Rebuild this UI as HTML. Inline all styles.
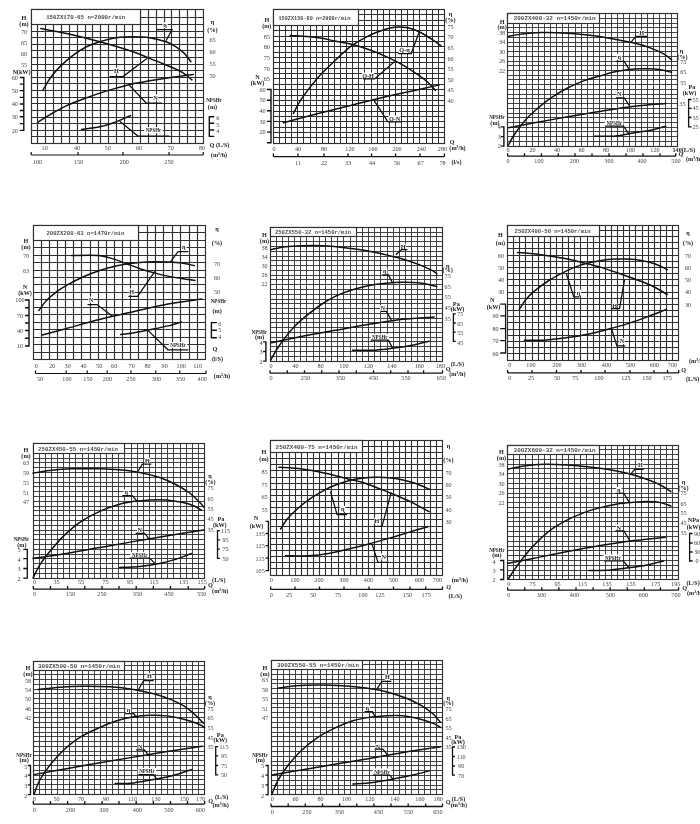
<!DOCTYPE html>
<html><head><meta charset="utf-8"><title>Pump performance curves</title>
<style>
html,body{margin:0;padding:0;background:#fff;}
body{width:700px;height:824px;overflow:hidden;font-family:"Liberation Mono",monospace;}
svg{display:block;will-change:transform;}
svg text{font-family:"Liberation Serif",serif;font-weight:bold;fill:#222;}
svg text.n{font-weight:normal;fill:#454545;}
svg text.tt{font-family:"Liberation Mono",monospace;font-weight:bold;fill:#4a4a4a;}
</style></head><body>
<svg width="700" height="824" viewBox="0 0 700 824">
<rect x="0" y="0" width="700" height="824" fill="#fff"/>
<g>
<path d="M31.20 24.50H203.20M31.20 31.50H203.20M31.20 37.50H203.20M31.20 44.50H203.20M31.20 50.50H203.20M31.20 57.50H203.20M31.20 64.50H203.20M31.20 70.50H203.20M31.20 77.50H203.20M31.20 83.50H203.20M31.20 90.50H203.20M31.20 97.50H203.20M31.20 103.50H203.20M31.20 110.50H203.20M31.20 117.50H203.20M31.20 123.50H203.20M31.20 130.50H203.20M31.20 136.50H203.20M140.00 17.50H203.20M37.50 24.40V143.40M45.50 24.40V143.40M53.50 24.40V143.40M61.50 24.40V143.40M69.50 24.40V143.40M77.50 24.40V143.40M85.50 24.40V143.40M92.50 24.40V143.40M100.50 24.40V143.40M108.50 24.40V143.40M116.50 24.40V143.40M124.50 24.40V143.40M132.50 24.40V143.40M140.50 9.70V143.40M148.50 9.70V143.40M156.50 9.70V143.40M164.50 9.70V143.40M171.50 9.70V143.40M179.50 9.70V143.40M187.50 9.70V143.40M195.50 9.70V143.40" stroke="#303030" stroke-width="1.15" fill="none"/>
<rect x="31.50" y="9.50" width="172.00" height="134.00" fill="none" stroke="#303030" stroke-width="1.15"/>
<rect x="31.50" y="9.50" width="109.00" height="15.00" fill="#fff" stroke="#303030" stroke-width="1.15"/>
<text x="46.20" y="19.25" font-size="5.60" text-anchor="start" class="tt" textLength="79.0" lengthAdjust="spacingAndGlyphs">150ZX170-65 n=2900r/min</text>
<rect x="162.44" y="22.25" width="5.30" height="6.00" fill="#fff"/>
<rect x="113.72" y="67.59" width="5.30" height="6.00" fill="#fff"/>
<rect x="152.83" y="94.40" width="5.30" height="6.00" fill="#fff"/>
<rect x="144.24" y="127.16" width="18.50" height="6.00" fill="#fff"/>
<path d="M40.81 28.56 C45.12 29.39 56.83 31.32 66.66 33.53 C76.49 35.74 88.75 38.77 99.80 41.80 C110.85 44.83 124.66 48.97 132.94 51.73 C141.22 54.49 143.99 56.14 149.51 58.35 C155.03 60.56 160.56 62.60 166.08 64.97 C171.60 67.34 178.34 70.10 182.65 72.58 C186.96 75.06 190.38 78.65 191.93 79.86" stroke="#111" stroke-width="1.50" fill="none" stroke-linecap="round"/>
<path d="M42.80 90.45 C44.02 88.41 47.22 82.17 50.09 78.20 C52.96 74.23 56.16 70.48 60.03 66.62 C63.90 62.76 68.87 58.35 73.29 55.04 C77.71 51.73 82.12 48.98 86.54 46.77 C90.96 44.56 94.83 43.29 99.80 41.80 C104.77 40.31 110.85 38.66 116.37 37.83 C121.89 37.00 127.42 36.84 132.94 36.84 C138.46 36.84 143.99 37.00 149.51 37.83 C155.03 38.66 161.66 40.31 166.08 41.80 C170.50 43.29 172.98 44.84 176.02 46.77 C179.06 48.70 181.82 50.90 184.31 53.38 C186.80 55.86 189.84 60.28 190.94 61.66" stroke="#111" stroke-width="1.50" fill="none" stroke-linecap="round"/>
<path d="M37.83 122.22 C39.87 120.95 45.29 117.37 50.09 114.61 C54.90 111.85 61.14 108.26 66.66 105.67 C72.18 103.08 77.71 101.14 83.23 99.05 C88.75 96.95 94.28 94.92 99.80 93.10 C105.32 91.28 110.85 89.67 116.37 88.13 C121.89 86.58 127.42 85.04 132.94 83.83 C138.46 82.62 143.99 81.79 149.51 80.85 C155.03 79.91 160.56 79.03 166.08 78.20 C171.60 77.37 178.12 76.50 182.65 75.89 C187.18 75.28 191.49 74.78 193.26 74.56" stroke="#111" stroke-width="1.50" fill="none" stroke-linecap="round"/>
<path d="M81.57 129.50 C84.61 129.06 94.55 127.95 99.80 126.85 C105.05 125.75 109.19 124.20 113.06 122.88 C116.93 121.56 120.07 120.12 123.00 118.91 C125.93 117.70 129.35 116.15 130.62 115.60" stroke="#111" stroke-width="1.50" fill="none" stroke-linecap="round"/>
<polyline points="156.14,29.56 172.05,29.56 166.08,40.81" stroke="#111" stroke-width="1.25" fill="none"/>
<polyline points="109.74,76.55 123.00,76.55 147.19,58.35" stroke="#111" stroke-width="1.25" fill="none"/>
<polyline points="161.77,103.03 146.20,103.03 128.96,84.82" stroke="#111" stroke-width="1.25" fill="none"/>
<polyline points="169.40,136.12 137.91,136.12 119.69,121.23" stroke="#111" stroke-width="1.30" fill="none"/>
<text x="165.09" y="27.36" font-size="6.20" text-anchor="middle">η</text>
<text x="116.37" y="72.70" font-size="6.20" text-anchor="middle">H</text>
<text x="155.48" y="99.51" font-size="6.20" text-anchor="middle">N</text>
<text x="153.49" y="132.27" font-size="6.20" text-anchor="middle" textLength="15.50" lengthAdjust="spacingAndGlyphs">NPSHr</text>
<text x="24.00" y="19.91" font-size="6.20" text-anchor="middle">H</text>
<text x="24.00" y="25.91" font-size="6.20" text-anchor="middle">(m)</text>
<text x="24.00" y="33.91" font-size="6.20" text-anchor="middle" class="n">70</text>
<text x="24.00" y="45.11" font-size="6.20" text-anchor="middle" class="n">65</text>
<text x="24.00" y="56.11" font-size="6.20" text-anchor="middle" class="n">60</text>
<text x="24.00" y="66.61" font-size="6.20" text-anchor="middle" class="n">55</text>
<text x="21.50" y="73.61" font-size="6.20" text-anchor="middle">N(kW)</text>
<text x="14.80" y="79.61" font-size="6.20" text-anchor="middle" class="n">60</text>
<text x="14.80" y="92.71" font-size="6.20" text-anchor="middle" class="n">50</text>
<text x="14.80" y="106.11" font-size="6.20" text-anchor="middle" class="n">40</text>
<text x="14.80" y="118.91" font-size="6.20" text-anchor="middle" class="n">30</text>
<text x="14.80" y="132.51" font-size="6.20" text-anchor="middle" class="n">20</text>
<text x="212.50" y="24.11" font-size="6.20" text-anchor="middle">η</text>
<text x="212.50" y="32.11" font-size="6.20" text-anchor="middle">(%)</text>
<text x="212.50" y="41.61" font-size="6.20" text-anchor="middle" class="n">65</text>
<text x="212.50" y="54.11" font-size="6.20" text-anchor="middle" class="n">60</text>
<text x="212.50" y="66.11" font-size="6.20" text-anchor="middle" class="n">55</text>
<text x="212.50" y="77.61" font-size="6.20" text-anchor="middle" class="n">50</text>
<text x="214.00" y="101.61" font-size="6.20" text-anchor="middle" textLength="15.50" lengthAdjust="spacingAndGlyphs">NPSHr</text>
<text x="212.50" y="109.11" font-size="6.20" text-anchor="middle">(m)</text>
<text x="217.90" y="120.01" font-size="6.20" text-anchor="middle" class="n">6</text>
<text x="217.90" y="126.71" font-size="6.20" text-anchor="middle" class="n">5</text>
<text x="217.90" y="132.81" font-size="6.20" text-anchor="middle" class="n">4</text>
<text x="219.50" y="147.31" font-size="6.20" text-anchor="middle">Q (L/S)</text>
<text x="219.00" y="156.91" font-size="6.20" text-anchor="middle">(m³/h)</text>
<text x="44.70" y="150.31" font-size="6.20" text-anchor="middle" class="n">10</text>
<text x="77.00" y="150.31" font-size="6.20" text-anchor="middle" class="n">40</text>
<text x="107.70" y="150.31" font-size="6.20" text-anchor="middle" class="n">50</text>
<text x="139.00" y="150.31" font-size="6.20" text-anchor="middle" class="n">60</text>
<text x="170.70" y="150.31" font-size="6.20" text-anchor="middle" class="n">70</text>
<text x="202.00" y="150.31" font-size="6.20" text-anchor="middle" class="n">80</text>
<text x="37.50" y="163.61" font-size="6.20" text-anchor="middle" class="n">100</text>
<text x="78.50" y="163.61" font-size="6.20" text-anchor="middle" class="n">150</text>
<text x="124.30" y="163.61" font-size="6.20" text-anchor="middle" class="n">200</text>
<text x="169.00" y="163.61" font-size="6.20" text-anchor="middle" class="n">250</text>
<path d="M23.80 76.80V131.10M23.80 77.50h-4.00M23.80 84.10h-4.00M23.80 90.60h-4.00M23.80 97.40h-4.00M23.80 104.00h-4.00M23.80 110.50h-4.00M23.80 116.80h-4.00M23.80 123.60h-4.00M23.80 130.40h-4.00" stroke="#111" stroke-width="1.40" fill="none"/>
<path d="M209.30 116.10V137.10M209.30 116.80h5.00M209.30 123.20h5.00M209.30 130.00h5.00M209.30 136.40h5.00" stroke="#111" stroke-width="1.40" fill="none"/>
<path d="M31.20 155.00H203.20M31.20 155.00v-3.00M78.00 155.00v-3.00M123.00 155.00v-3.00M169.00 155.00v-3.00M203.20 155.00v-3.00" stroke="#111" stroke-width="1.20" fill="none"/>
</g>
<g>
<path d="M273.40 25.50H444.40M273.40 30.50H444.40M273.40 36.50H444.40M273.40 41.50H444.40M273.40 46.50H444.40M273.40 52.50H444.40M273.40 57.50H444.40M273.40 62.50H444.40M273.40 68.50H444.40M273.40 73.50H444.40M273.40 78.50H444.40M273.40 84.50H444.40M273.40 89.50H444.40M273.40 95.50H444.40M273.40 100.50H444.40M273.40 105.50H444.40M273.40 111.50H444.40M273.40 116.50H444.40M273.40 121.50H444.40M273.40 127.50H444.40M273.40 132.50H444.40M273.40 137.50H444.40M358.90 20.50H444.40M358.90 14.50H444.40M279.50 25.40V143.20M285.50 25.40V143.20M291.50 25.40V143.20M297.50 25.40V143.20M303.50 25.40V143.20M310.50 25.40V143.20M316.50 25.40V143.20M322.50 25.40V143.20M328.50 25.40V143.20M334.50 25.40V143.20M340.50 25.40V143.20M346.50 25.40V143.20M352.50 25.40V143.20M358.50 9.70V143.20M364.50 9.70V143.20M371.50 9.70V143.20M377.50 9.70V143.20M383.50 9.70V143.20M389.50 9.70V143.20M395.50 9.70V143.20M401.50 9.70V143.20M407.50 9.70V143.20M413.50 9.70V143.20M419.50 9.70V143.20M426.50 9.70V143.20M432.50 9.70V143.20M438.50 9.70V143.20" stroke="#303030" stroke-width="1.00" fill="none"/>
<rect x="273.50" y="9.50" width="171.00" height="134.00" fill="none" stroke="#303030" stroke-width="1.15"/>
<rect x="273.50" y="9.50" width="85.00" height="16.00" fill="#fff" stroke="#303030" stroke-width="1.15"/>
<text x="278.40" y="19.75" font-size="5.60" text-anchor="start" class="tt" textLength="72.0" lengthAdjust="spacingAndGlyphs">150ZX150-80 n=2900r/min</text>
<rect x="398.61" y="47.24" width="11.90" height="6.00" fill="#fff"/>
<rect x="362.08" y="72.63" width="11.90" height="6.00" fill="#fff"/>
<rect x="388.64" y="115.48" width="11.90" height="6.00" fill="#fff"/>
<path d="M290.00 35.41 C294.70 35.79 310.76 36.79 318.23 37.72 C325.70 38.65 329.30 39.91 334.83 41.01 C340.36 42.11 345.90 42.94 351.43 44.31 C356.96 45.69 362.50 47.34 368.03 49.26 C373.56 51.18 379.10 53.38 384.63 55.85 C390.16 58.32 395.70 60.96 401.23 64.09 C406.76 67.22 413.41 71.62 417.84 74.64 C422.27 77.66 424.87 79.58 427.80 82.22 C430.73 84.86 434.16 89.09 435.43 90.46" stroke="#111" stroke-width="1.50" fill="none" stroke-linecap="round"/>
<path d="M293.32 113.53 C294.70 111.06 297.47 104.74 301.62 98.70 C305.77 92.66 312.70 83.59 318.23 77.27 C323.76 70.95 329.30 66.01 334.83 60.79 C340.36 55.57 345.90 50.08 351.43 45.96 C356.96 41.84 362.50 38.82 368.03 36.07 C373.56 33.32 380.20 30.96 384.63 29.48 C389.06 28.00 390.71 27.45 394.59 27.17 C398.46 26.90 403.45 26.90 407.88 27.83 C412.31 28.76 416.73 30.57 421.16 32.77 C425.59 34.97 431.12 38.81 434.44 41.01 C437.76 43.21 439.97 45.13 441.08 45.96" stroke="#111" stroke-width="1.50" fill="none" stroke-linecap="round"/>
<path d="M283.36 122.76 C289.17 121.22 306.88 116.44 318.23 113.53 C329.58 110.62 340.36 108.04 351.43 105.29 C362.50 102.54 373.56 99.63 384.63 97.05 C395.70 94.47 408.71 91.83 417.84 89.80 C426.97 87.77 435.82 85.68 439.42 84.86" stroke="#111" stroke-width="1.50" fill="none" stroke-linecap="round"/>
<polyline points="397.91,53.54 411.20,53.54 419.50,31.13" stroke="#111" stroke-width="1.25" fill="none"/>
<polyline points="363.05,78.92 374.67,78.92 394.59,61.45" stroke="#111" stroke-width="1.25" fill="none"/>
<polyline points="401.23,121.77 387.95,121.77 374.01,100.35" stroke="#111" stroke-width="1.25" fill="none"/>
<text x="404.56" y="52.35" font-size="6.20" text-anchor="middle">Q-η</text>
<text x="368.03" y="77.74" font-size="6.20" text-anchor="middle">Q-H</text>
<text x="394.59" y="120.59" font-size="6.20" text-anchor="middle">Q-N</text>
<text x="266.80" y="22.31" font-size="6.20" text-anchor="middle">H</text>
<text x="266.80" y="28.31" font-size="6.20" text-anchor="middle">(m)</text>
<text x="266.80" y="38.51" font-size="6.20" text-anchor="middle" class="n">85</text>
<text x="266.80" y="49.21" font-size="6.20" text-anchor="middle" class="n">80</text>
<text x="266.80" y="59.91" font-size="6.20" text-anchor="middle" class="n">75</text>
<text x="266.80" y="70.61" font-size="6.20" text-anchor="middle" class="n">70</text>
<text x="266.80" y="81.31" font-size="6.20" text-anchor="middle" class="n">65</text>
<text x="257.50" y="79.11" font-size="6.20" text-anchor="middle">N</text>
<text x="257.50" y="85.11" font-size="6.20" text-anchor="middle">(kW)</text>
<text x="262.50" y="91.61" font-size="6.20" text-anchor="middle" class="n">60</text>
<text x="262.50" y="102.31" font-size="6.20" text-anchor="middle" class="n">50</text>
<text x="262.50" y="112.91" font-size="6.20" text-anchor="middle" class="n">40</text>
<text x="262.50" y="123.51" font-size="6.20" text-anchor="middle" class="n">30</text>
<text x="262.50" y="134.21" font-size="6.20" text-anchor="middle" class="n">20</text>
<text x="450.50" y="16.11" font-size="6.20" text-anchor="middle">η</text>
<text x="450.50" y="21.61" font-size="6.20" text-anchor="middle">(%)</text>
<text x="450.50" y="28.61" font-size="6.20" text-anchor="middle" class="n">75</text>
<text x="450.50" y="39.11" font-size="6.20" text-anchor="middle" class="n">70</text>
<text x="450.50" y="50.11" font-size="6.20" text-anchor="middle" class="n">65</text>
<text x="450.50" y="60.61" font-size="6.20" text-anchor="middle" class="n">60</text>
<text x="450.50" y="71.11" font-size="6.20" text-anchor="middle" class="n">55</text>
<text x="450.50" y="81.71" font-size="6.20" text-anchor="middle" class="n">50</text>
<text x="450.50" y="92.11" font-size="6.20" text-anchor="middle" class="n">45</text>
<text x="450.50" y="103.11" font-size="6.20" text-anchor="middle" class="n">40</text>
<text x="452.10" y="143.51" font-size="6.20" text-anchor="middle">Q</text>
<text x="457.50" y="150.31" font-size="6.20" text-anchor="middle">(m³/h)</text>
<text x="456.50" y="163.71" font-size="6.20" text-anchor="middle">(l/s)</text>
<text x="274.00" y="150.81" font-size="6.20" text-anchor="middle" class="n">0</text>
<text x="298.00" y="150.81" font-size="6.20" text-anchor="middle" class="n">40</text>
<text x="324.00" y="150.81" font-size="6.20" text-anchor="middle" class="n">80</text>
<text x="350.00" y="150.81" font-size="6.20" text-anchor="middle" class="n">120</text>
<text x="373.00" y="150.81" font-size="6.20" text-anchor="middle" class="n">160</text>
<text x="397.00" y="150.81" font-size="6.20" text-anchor="middle" class="n">200</text>
<text x="421.40" y="150.81" font-size="6.20" text-anchor="middle" class="n">240</text>
<text x="442.50" y="150.81" font-size="6.20" text-anchor="middle" class="n">280</text>
<text x="298.00" y="165.11" font-size="6.20" text-anchor="middle" class="n">11</text>
<text x="324.00" y="165.11" font-size="6.20" text-anchor="middle" class="n">22</text>
<text x="348.00" y="165.11" font-size="6.20" text-anchor="middle" class="n">33</text>
<text x="372.00" y="165.11" font-size="6.20" text-anchor="middle" class="n">44</text>
<text x="397.00" y="165.11" font-size="6.20" text-anchor="middle" class="n">56</text>
<text x="420.70" y="165.11" font-size="6.20" text-anchor="middle" class="n">67</text>
<text x="442.50" y="165.11" font-size="6.20" text-anchor="middle" class="n">78</text>
<path d="M271.00 88.80V143.50M271.00 89.50h-4.00M271.00 100.20h-4.00M271.00 110.80h-4.00M271.00 121.40h-4.00M271.00 132.10h-4.00M271.00 142.80h-4.00" stroke="#111" stroke-width="1.40" fill="none"/>
<path d="M273.40 156.60H444.40M273.40 156.60v-3.00M298.00 156.60v-3.00M324.00 156.60v-3.00M348.00 156.60v-3.00M371.60 156.60v-3.00M395.60 156.60v-3.00M420.00 156.60v-3.00M444.40 156.60v-3.00" stroke="#111" stroke-width="1.30" fill="none"/>
</g>
<g>
<path d="M507.70 23.50H677.50M507.70 27.50H677.50M507.70 32.50H677.50M507.70 37.50H677.50M507.70 42.50H677.50M507.70 46.50H677.50M507.70 51.50H677.50M507.70 56.50H677.50M507.70 61.50H677.50M507.70 65.50H677.50M507.70 70.50H677.50M507.70 75.50H677.50M507.70 79.50H677.50M507.70 84.50H677.50M507.70 89.50H677.50M507.70 94.50H677.50M507.70 98.50H677.50M507.70 103.50H677.50M507.70 108.50H677.50M507.70 113.50H677.50M507.70 117.50H677.50M507.70 122.50H677.50M507.70 127.50H677.50M507.70 131.50H677.50M507.70 136.50H677.50M507.70 141.50H677.50M599.60 18.50H677.50M513.50 23.20V146.10M519.50 23.20V146.10M526.50 23.20V146.10M532.50 23.20V146.10M538.50 23.20V146.10M544.50 23.20V146.10M550.50 23.20V146.10M556.50 23.20V146.10M562.50 23.20V146.10M568.50 23.20V146.10M575.50 23.20V146.10M581.50 23.20V146.10M587.50 23.20V146.10M593.50 23.20V146.10M599.50 13.00V146.10M605.50 13.00V146.10M611.50 13.00V146.10M617.50 13.00V146.10M623.50 13.00V146.10M629.50 13.00V146.10M635.50 13.00V146.10M641.50 13.00V146.10M647.50 13.00V146.10M653.50 13.00V146.10M659.50 13.00V146.10M665.50 13.00V146.10M671.50 13.00V146.10" stroke="#303030" stroke-width="0.90" fill="none"/>
<rect x="507.50" y="13.50" width="170.00" height="133.00" fill="none" stroke="#303030" stroke-width="1.15"/>
<rect x="507.50" y="13.50" width="92.00" height="10.00" fill="#fff" stroke="#303030" stroke-width="1.15"/>
<text x="513.70" y="20.30" font-size="5.60" text-anchor="start" class="tt" textLength="82.0" lengthAdjust="spacingAndGlyphs">200ZX400-32  n=1450r/min</text>
<rect x="638.89" y="30.13" width="5.30" height="6.00" fill="#fff"/>
<rect x="616.59" y="54.06" width="5.30" height="6.00" fill="#fff"/>
<rect x="616.59" y="90.94" width="5.30" height="6.00" fill="#fff"/>
<rect x="604.99" y="119.51" width="18.50" height="6.00" fill="#fff"/>
<path d="M508.37 36.46 C510.48 36.07 515.58 34.80 521.02 34.13 C526.46 33.47 533.22 32.64 540.99 32.47 C548.76 32.30 558.75 32.58 567.63 33.13 C576.51 33.68 585.94 34.68 594.26 35.79 C602.58 36.90 610.91 38.56 617.57 39.78 C624.23 41.00 628.67 41.72 634.22 43.10 C639.77 44.48 645.87 46.26 650.86 48.09 C655.85 49.92 660.74 52.13 664.18 54.07 C667.62 56.01 670.29 58.78 671.51 59.72" stroke="#111" stroke-width="1.50" fill="none" stroke-linecap="round"/>
<path d="M508.37 145.10 C509.37 143.33 511.70 138.46 514.36 134.47 C517.02 130.48 521.02 125.06 524.35 121.18 C527.68 117.30 529.90 115.09 534.34 111.21 C538.78 107.33 545.43 101.80 550.98 97.92 C556.53 94.05 562.08 90.84 567.63 87.96 C573.18 85.08 578.73 82.70 584.28 80.65 C589.83 78.60 595.37 77.21 600.92 75.66 C606.47 74.11 612.02 72.45 617.57 71.34 C623.12 70.23 629.23 69.46 634.22 69.02 C639.22 68.58 643.10 68.58 647.54 68.69 C651.98 68.80 656.86 69.07 660.85 69.68 C664.85 70.29 669.73 71.90 671.51 72.34" stroke="#111" stroke-width="1.50" fill="none" stroke-linecap="round"/>
<path d="M508.37 127.83 C512.70 127.00 524.46 124.67 534.34 122.84 C544.22 121.01 556.53 118.80 567.63 116.86 C578.73 114.92 589.82 112.98 600.92 111.21 C612.02 109.44 623.40 107.50 634.22 106.23 C645.04 104.96 660.58 104.01 665.85 103.57" stroke="#111" stroke-width="1.50" fill="none" stroke-linecap="round"/>
<path d="M594.26 136.13 C597.59 136.13 607.58 136.68 614.24 136.13 C620.90 135.58 628.12 133.81 634.22 132.81 C640.32 131.81 645.59 131.26 650.86 130.15 C656.13 129.04 663.35 126.83 665.85 126.17" stroke="#111" stroke-width="1.50" fill="none" stroke-linecap="round"/>
<polyline points="630.89,42.44 635.88,36.46 647.54,36.46" stroke="#111" stroke-width="1.25" fill="none"/>
<polyline points="615.91,61.38 624.23,61.38 629.22,69.68" stroke="#111" stroke-width="1.25" fill="none"/>
<polyline points="615.91,97.92 624.23,97.92 630.22,106.89" stroke="#111" stroke-width="1.25" fill="none"/>
<polyline points="605.92,126.17 623.56,126.17 629.22,134.47" stroke="#111" stroke-width="1.25" fill="none"/>
<text x="641.54" y="35.24" font-size="6.20" text-anchor="middle">H</text>
<text x="619.24" y="59.17" font-size="6.20" text-anchor="middle">η</text>
<text x="619.24" y="96.05" font-size="6.20" text-anchor="middle">N</text>
<text x="614.24" y="124.62" font-size="6.20" text-anchor="middle" textLength="15.50" lengthAdjust="spacingAndGlyphs">NPSHr</text>
<text x="502.10" y="23.51" font-size="6.20" text-anchor="middle">H</text>
<text x="502.10" y="29.21" font-size="6.20" text-anchor="middle">(m)</text>
<text x="502.10" y="34.71" font-size="6.20" text-anchor="middle" class="n">38</text>
<text x="502.10" y="44.21" font-size="6.20" text-anchor="middle" class="n">34</text>
<text x="502.10" y="53.61" font-size="6.20" text-anchor="middle" class="n">30</text>
<text x="502.10" y="63.11" font-size="6.20" text-anchor="middle" class="n">26</text>
<text x="502.10" y="72.51" font-size="6.20" text-anchor="middle" class="n">22</text>
<text x="497.00" y="118.61" font-size="6.20" text-anchor="middle" textLength="15.50" lengthAdjust="spacingAndGlyphs">NPSHr</text>
<text x="495.00" y="124.61" font-size="6.20" text-anchor="middle">(m)</text>
<text x="499.30" y="129.31" font-size="6.20" text-anchor="middle" class="n">4</text>
<text x="499.30" y="138.91" font-size="6.20" text-anchor="middle" class="n">3</text>
<text x="499.30" y="148.11" font-size="6.20" text-anchor="middle" class="n">2</text>
<text x="681.50" y="53.11" font-size="6.20" text-anchor="middle">η</text>
<text x="682.40" y="58.51" font-size="6.20" text-anchor="middle">(%)</text>
<text x="683.30" y="64.31" font-size="6.20" text-anchor="middle" class="n">75</text>
<text x="683.30" y="74.41" font-size="6.20" text-anchor="middle" class="n">65</text>
<text x="683.30" y="84.61" font-size="6.20" text-anchor="middle" class="n">55</text>
<text x="692.00" y="89.11" font-size="6.20" text-anchor="middle">Pa</text>
<text x="689.50" y="94.61" font-size="6.20" text-anchor="middle">(kW)</text>
<text x="682.40" y="106.11" font-size="6.20" text-anchor="middle" class="n">35</text>
<text x="695.60" y="101.61" font-size="6.20" text-anchor="middle" class="n">55</text>
<text x="695.60" y="110.41" font-size="6.20" text-anchor="middle" class="n">45</text>
<text x="695.60" y="119.61" font-size="6.20" text-anchor="middle" class="n">35</text>
<text x="695.60" y="128.91" font-size="6.20" text-anchor="middle" class="n">25</text>
<text x="508.00" y="151.91" font-size="6.20" text-anchor="middle" class="n">0</text>
<text x="532.50" y="151.91" font-size="6.20" text-anchor="middle" class="n">20</text>
<text x="557.00" y="151.91" font-size="6.20" text-anchor="middle" class="n">40</text>
<text x="581.50" y="151.91" font-size="6.20" text-anchor="middle" class="n">60</text>
<text x="606.00" y="151.91" font-size="6.20" text-anchor="middle" class="n">80</text>
<text x="630.50" y="151.91" font-size="6.20" text-anchor="middle" class="n">100</text>
<text x="655.00" y="151.91" font-size="6.20" text-anchor="middle" class="n">120</text>
<text x="672.50" y="151.91" font-size="6.20" text-anchor="start">140(L/S)</text>
<text x="681.00" y="156.41" font-size="6.20" text-anchor="middle">Q</text>
<text x="686.00" y="160.91" font-size="6.20" text-anchor="start">(m³/h)</text>
<text x="508.00" y="163.11" font-size="6.20" text-anchor="middle" class="n">0</text>
<text x="539.00" y="163.11" font-size="6.20" text-anchor="middle" class="n">100</text>
<text x="574.50" y="163.11" font-size="6.20" text-anchor="middle" class="n">200</text>
<text x="609.00" y="163.11" font-size="6.20" text-anchor="middle" class="n">300</text>
<text x="642.00" y="163.11" font-size="6.20" text-anchor="middle" class="n">400</text>
<text x="676.00" y="163.11" font-size="6.20" text-anchor="middle" class="n">500</text>
<path d="M503.90 126.20V146.80M503.90 126.90h-3.00M503.90 136.60h-3.00M503.90 146.10h-3.00" stroke="#111" stroke-width="1.40" fill="none"/>
<path d="M688.60 98.85V127.45M688.60 99.50h3.00M688.60 108.30h3.00M688.60 117.50h3.00M688.60 126.80h3.00" stroke="#111" stroke-width="1.30" fill="none"/>
<path d="M507.60 156.20H675.70M507.60 156.20v-3.00M524.50 156.20v-3.00M541.50 156.20v-3.00M558.30 156.20v-3.00M575.00 156.20v-3.00M592.00 156.20v-3.00M609.00 156.20v-3.00M626.00 156.20v-3.00M643.00 156.20v-3.00M660.00 156.20v-3.00M675.70 156.20v-3.00" stroke="#111" stroke-width="1.30" fill="none"/>
</g>
<g>
<path d="M33.40 240.50H205.80M33.40 247.50H205.80M33.40 255.50H205.80M33.40 262.50H205.80M33.40 270.50H205.80M33.40 277.50H205.80M33.40 284.50H205.80M33.40 292.50H205.80M33.40 299.50H205.80M33.40 307.50H205.80M33.40 314.50H205.80M33.40 322.50H205.80M33.40 329.50H205.80M33.40 337.50H205.80M33.40 344.50H205.80M33.40 352.50H205.80M138.60 232.50H205.80M41.50 240.20V359.60M49.50 240.20V359.60M57.50 240.20V359.60M65.50 240.20V359.60M73.50 240.20V359.60M81.50 240.20V359.60M90.50 240.20V359.60M98.50 240.20V359.60M106.50 240.20V359.60M114.50 240.20V359.60M122.50 240.20V359.60M130.50 240.20V359.60M138.50 225.40V359.60M147.50 225.40V359.60M155.50 225.40V359.60M163.50 225.40V359.60M172.50 225.40V359.60M180.50 225.40V359.60M189.50 225.40V359.60M197.50 225.40V359.60" stroke="#303030" stroke-width="1.15" fill="none"/>
<rect x="33.50" y="225.50" width="172.00" height="134.00" fill="none" stroke="#303030" stroke-width="1.15"/>
<rect x="33.50" y="225.50" width="105.00" height="15.00" fill="#fff" stroke="#303030" stroke-width="1.15"/>
<text x="46.40" y="235.00" font-size="5.60" text-anchor="start" class="tt" textLength="78.0" lengthAdjust="spacingAndGlyphs">200ZX280-63 n=1470r/min</text>
<rect x="181.18" y="244.33" width="5.30" height="6.00" fill="#fff"/>
<rect x="129.12" y="288.52" width="5.30" height="6.00" fill="#fff"/>
<rect x="88.22" y="296.70" width="5.30" height="6.00" fill="#fff"/>
<rect x="168.83" y="341.87" width="18.50" height="6.00" fill="#fff"/>
<path d="M71.60 255.51 C76.11 255.51 91.60 254.91 98.64 255.51 C105.68 256.11 109.06 257.69 113.85 259.11 C118.64 260.53 122.86 262.38 127.37 264.02 C131.88 265.66 136.39 267.46 140.90 268.93 C145.41 270.40 149.91 271.66 154.42 272.86 C158.93 274.06 163.43 275.20 167.94 276.13 C172.45 277.06 176.95 277.72 181.46 278.43 C185.97 279.14 192.73 280.06 194.98 280.39" stroke="#111" stroke-width="1.50" fill="none" stroke-linecap="round"/>
<path d="M38.81 310.50 C40.05 308.86 43.32 303.79 46.25 300.68 C49.18 297.57 53.01 294.41 56.39 291.85 C59.77 289.29 62.02 287.81 66.53 285.30 C71.04 282.79 77.80 279.30 83.43 276.79 C89.06 274.28 94.70 272.10 100.33 270.24 C105.96 268.38 111.59 266.86 117.23 265.66 C122.87 264.46 128.50 263.70 134.14 263.04 C139.77 262.38 145.41 261.89 151.04 261.73 C156.67 261.57 162.87 261.84 167.94 262.06 C173.01 262.28 177.06 262.44 181.46 263.04 C185.86 263.64 192.17 265.22 194.31 265.66" stroke="#111" stroke-width="1.50" fill="none" stroke-linecap="round"/>
<path d="M42.19 335.05 C46.25 333.96 56.84 331.12 66.53 328.50 C76.22 325.88 89.06 322.18 100.33 319.34 C111.60 316.50 122.87 314.04 134.14 311.48 C145.41 308.92 156.67 306.03 167.94 303.96 C179.21 301.89 196.11 299.87 201.74 299.05" stroke="#111" stroke-width="1.50" fill="none" stroke-linecap="round"/>
<path d="M120.61 334.40 C122.86 334.13 129.07 333.58 134.14 332.76 C139.21 331.94 145.41 330.63 151.04 329.49 C156.67 328.35 162.87 327.14 167.94 325.89 C173.01 324.63 179.21 322.62 181.46 321.96" stroke="#111" stroke-width="1.50" fill="none" stroke-linecap="round"/>
<polyline points="188.22,251.59 178.08,251.59 170.31,262.06" stroke="#111" stroke-width="1.25" fill="none"/>
<polyline points="128.39,296.43 137.52,296.43 155.09,271.22" stroke="#111" stroke-width="1.25" fill="none"/>
<polyline points="87.49,304.61 96.95,304.61 112.16,316.07" stroke="#111" stroke-width="1.25" fill="none"/>
<polyline points="188.22,349.78 167.94,349.78 147.66,330.14" stroke="#111" stroke-width="1.30" fill="none"/>
<text x="183.83" y="249.44" font-size="6.20" text-anchor="middle">η</text>
<text x="131.77" y="293.63" font-size="6.20" text-anchor="middle">H</text>
<text x="90.87" y="301.81" font-size="6.20" text-anchor="middle">N</text>
<text x="178.08" y="346.98" font-size="6.20" text-anchor="middle" textLength="15.50" lengthAdjust="spacingAndGlyphs">NPSHr</text>
<text x="26.00" y="243.11" font-size="6.20" text-anchor="middle">H</text>
<text x="26.00" y="249.11" font-size="6.20" text-anchor="middle">(m)</text>
<text x="26.00" y="257.61" font-size="6.20" text-anchor="middle" class="n">70</text>
<text x="26.00" y="272.61" font-size="6.20" text-anchor="middle" class="n">63</text>
<text x="25.00" y="289.11" font-size="6.20" text-anchor="middle">N</text>
<text x="25.00" y="295.11" font-size="6.20" text-anchor="middle">(kW)</text>
<text x="20.00" y="302.11" font-size="6.20" text-anchor="middle" class="n">100</text>
<text x="20.00" y="317.61" font-size="6.20" text-anchor="middle" class="n">70</text>
<text x="20.00" y="332.61" font-size="6.20" text-anchor="middle" class="n">40</text>
<text x="20.00" y="348.11" font-size="6.20" text-anchor="middle" class="n">10</text>
<text x="217.00" y="230.61" font-size="6.20" text-anchor="middle">η</text>
<text x="217.00" y="244.61" font-size="6.20" text-anchor="middle">(%)</text>
<text x="217.00" y="265.61" font-size="6.20" text-anchor="middle" class="n">70</text>
<text x="217.00" y="280.11" font-size="6.20" text-anchor="middle" class="n">60</text>
<text x="217.00" y="294.11" font-size="6.20" text-anchor="middle" class="n">50</text>
<text x="218.50" y="302.61" font-size="6.20" text-anchor="middle" textLength="15.50" lengthAdjust="spacingAndGlyphs">NPSHr</text>
<text x="217.10" y="313.21" font-size="6.20" text-anchor="middle">(m)</text>
<text x="219.70" y="325.81" font-size="6.20" text-anchor="middle" class="n">6</text>
<text x="219.70" y="332.11" font-size="6.20" text-anchor="middle" class="n">5</text>
<text x="219.70" y="338.71" font-size="6.20" text-anchor="middle" class="n">4</text>
<text x="215.00" y="350.71" font-size="6.20" text-anchor="middle">Q</text>
<text x="217.50" y="361.01" font-size="6.20" text-anchor="middle">(l/S)</text>
<text x="222.00" y="378.41" font-size="6.20" text-anchor="middle">(m³/h)</text>
<text x="36.20" y="367.71" font-size="6.20" text-anchor="middle" class="n">0</text>
<text x="52.00" y="367.71" font-size="6.20" text-anchor="middle" class="n">20</text>
<text x="67.70" y="367.71" font-size="6.20" text-anchor="middle" class="n">30</text>
<text x="83.50" y="367.71" font-size="6.20" text-anchor="middle" class="n">40</text>
<text x="99.20" y="367.71" font-size="6.20" text-anchor="middle" class="n">50</text>
<text x="114.20" y="367.71" font-size="6.20" text-anchor="middle" class="n">60</text>
<text x="131.70" y="367.71" font-size="6.20" text-anchor="middle" class="n">70</text>
<text x="147.50" y="367.71" font-size="6.20" text-anchor="middle" class="n">80</text>
<text x="164.70" y="367.71" font-size="6.20" text-anchor="middle" class="n">90</text>
<text x="181.20" y="367.71" font-size="6.20" text-anchor="middle" class="n">100</text>
<text x="197.70" y="367.71" font-size="6.20" text-anchor="middle" class="n">110</text>
<text x="40.00" y="381.31" font-size="6.20" text-anchor="middle" class="n">50</text>
<text x="67.00" y="381.31" font-size="6.20" text-anchor="middle" class="n">100</text>
<text x="88.00" y="381.31" font-size="6.20" text-anchor="middle" class="n">150</text>
<text x="107.50" y="381.31" font-size="6.20" text-anchor="middle" class="n">200</text>
<text x="131.00" y="381.31" font-size="6.20" text-anchor="middle" class="n">250</text>
<text x="156.50" y="381.31" font-size="6.20" text-anchor="middle" class="n">300</text>
<text x="180.50" y="381.31" font-size="6.20" text-anchor="middle" class="n">350</text>
<text x="202.20" y="381.31" font-size="6.20" text-anchor="middle" class="n">400</text>
<path d="M29.00 299.30V346.70M29.00 300.00h-4.00M29.00 307.70h-4.00M29.00 315.50h-4.00M29.00 323.00h-4.00M29.00 330.50h-4.00M29.00 338.20h-4.00M29.00 346.00h-4.00" stroke="#111" stroke-width="1.40" fill="none"/>
<path d="M211.40 321.90V338.40M211.40 322.60h5.50M211.40 330.30h5.50M211.40 337.70h5.50" stroke="#111" stroke-width="1.40" fill="none"/>
<path d="M35.50 373.50H206.00M35.50 373.50v-3.00M66.20 373.50v-3.00M87.20 373.50v-3.00M107.20 373.50v-3.00M131.00 373.50v-3.00M155.70 373.50v-3.00M179.70 373.50v-3.00M206.00 373.50v-3.00" stroke="#111" stroke-width="1.20" fill="none"/>
</g>
<g>
<path d="M270.00 236.50H442.50M270.00 241.50H442.50M270.00 246.50H442.50M270.00 251.50H442.50M270.00 256.50H442.50M270.00 260.50H442.50M270.00 265.50H442.50M270.00 270.50H442.50M270.00 275.50H442.50M270.00 279.50H442.50M270.00 284.50H442.50M270.00 289.50H442.50M270.00 294.50H442.50M270.00 299.50H442.50M270.00 303.50H442.50M270.00 308.50H442.50M270.00 313.50H442.50M270.00 318.50H442.50M270.00 322.50H442.50M270.00 327.50H442.50M270.00 332.50H442.50M270.00 337.50H442.50M270.00 341.50H442.50M270.00 346.50H442.50M270.00 351.50H442.50M270.00 356.50H442.50M356.20 232.50H442.50M276.50 236.90V361.10M282.50 236.90V361.10M288.50 236.90V361.10M294.50 236.90V361.10M300.50 236.90V361.10M306.50 236.90V361.10M313.50 236.90V361.10M319.50 236.90V361.10M325.50 236.90V361.10M331.50 236.90V361.10M337.50 236.90V361.10M343.50 236.90V361.10M350.50 236.90V361.10M356.50 227.50V361.10M362.50 227.50V361.10M368.50 227.50V361.10M374.50 227.50V361.10M380.50 227.50V361.10M387.50 227.50V361.10M393.50 227.50V361.10M399.50 227.50V361.10M405.50 227.50V361.10M411.50 227.50V361.10M417.50 227.50V361.10M424.50 227.50V361.10M430.50 227.50V361.10M436.50 227.50V361.10" stroke="#303030" stroke-width="0.90" fill="none"/>
<rect x="270.50" y="227.50" width="172.00" height="134.00" fill="none" stroke="#303030" stroke-width="1.15"/>
<rect x="270.50" y="227.50" width="86.00" height="9.00" fill="#fff" stroke="#303030" stroke-width="1.15"/>
<text x="275.00" y="234.40" font-size="5.60" text-anchor="start" class="tt" textLength="76.0" lengthAdjust="spacingAndGlyphs">250ZX550-32 n=1450r/min</text>
<rect x="400.48" y="243.73" width="5.30" height="6.00" fill="#fff"/>
<rect x="382.13" y="268.26" width="5.30" height="6.00" fill="#fff"/>
<rect x="380.13" y="305.06" width="5.30" height="6.00" fill="#fff"/>
<rect x="370.52" y="333.90" width="18.50" height="6.00" fill="#fff"/>
<path d="M270.67 249.71 C273.17 249.21 280.40 247.39 285.68 246.73 C290.96 246.07 296.24 245.90 302.36 245.73 C308.48 245.56 315.71 245.45 322.38 245.73 C329.05 246.01 335.73 246.67 342.40 247.39 C349.07 248.11 355.75 248.94 362.42 250.04 C369.09 251.14 375.77 252.53 382.44 254.02 C389.11 255.51 396.34 257.22 402.46 258.99 C408.58 260.76 414.13 262.69 419.14 264.63 C424.14 266.56 429.54 269.05 432.49 270.60 C435.44 272.15 436.11 273.36 436.83 273.91" stroke="#111" stroke-width="1.50" fill="none" stroke-linecap="round"/>
<path d="M270.67 360.11 C271.78 358.18 274.84 352.37 277.34 348.50 C279.84 344.63 282.62 340.77 285.68 336.90 C288.74 333.03 291.80 329.17 295.69 325.30 C299.58 321.43 304.59 317.28 309.04 313.69 C313.49 310.10 317.93 306.68 322.38 303.75 C326.83 300.82 330.73 298.44 335.73 296.12 C340.74 293.80 346.85 291.59 352.41 289.82 C357.97 288.05 363.54 286.62 369.10 285.51 C374.66 284.40 380.22 283.74 385.78 283.19 C391.34 282.64 396.90 282.25 402.46 282.20 C408.02 282.14 413.41 282.14 419.14 282.86 C424.87 283.58 433.88 285.90 436.83 286.51" stroke="#111" stroke-width="1.50" fill="none" stroke-linecap="round"/>
<path d="M270.67 342.87 C275.95 341.76 291.52 338.34 302.36 336.24 C313.20 334.14 324.61 332.26 335.73 330.27 C346.85 328.28 357.98 326.12 369.10 324.30 C380.22 322.48 391.62 320.54 402.46 319.33 C413.30 318.12 428.88 317.40 434.16 317.01" stroke="#111" stroke-width="1.50" fill="none" stroke-linecap="round"/>
<path d="M352.41 350.16 C356.30 350.16 368.54 350.55 375.77 350.16 C383.00 349.77 389.67 348.67 395.79 347.84 C401.91 347.01 406.91 346.30 412.47 345.19 C418.03 344.08 426.37 341.87 429.15 341.21" stroke="#111" stroke-width="1.50" fill="none" stroke-linecap="round"/>
<polyline points="395.79,254.68 401.46,249.71 407.47,249.71" stroke="#111" stroke-width="1.25" fill="none"/>
<polyline points="382.44,274.91 388.45,274.91 392.45,282.86" stroke="#111" stroke-width="1.25" fill="none"/>
<polyline points="380.77,311.37 386.45,311.37 391.78,320.99" stroke="#111" stroke-width="1.25" fill="none"/>
<polyline points="370.76,340.21 388.45,340.21 392.45,347.84" stroke="#111" stroke-width="1.25" fill="none"/>
<text x="403.13" y="248.84" font-size="6.20" text-anchor="middle">H</text>
<text x="384.78" y="273.37" font-size="6.20" text-anchor="middle">η</text>
<text x="382.78" y="310.17" font-size="6.20" text-anchor="middle">N</text>
<text x="379.77" y="339.01" font-size="6.20" text-anchor="middle" textLength="15.50" lengthAdjust="spacingAndGlyphs">NPSHr</text>
<text x="264.50" y="237.11" font-size="6.20" text-anchor="middle">H</text>
<text x="264.50" y="242.61" font-size="6.20" text-anchor="middle">(m)</text>
<text x="264.50" y="249.61" font-size="6.20" text-anchor="middle" class="n">38</text>
<text x="264.50" y="258.61" font-size="6.20" text-anchor="middle" class="n">34</text>
<text x="264.50" y="267.61" font-size="6.20" text-anchor="middle" class="n">30</text>
<text x="264.50" y="276.61" font-size="6.20" text-anchor="middle" class="n">26</text>
<text x="264.50" y="285.61" font-size="6.20" text-anchor="middle" class="n">22</text>
<text x="259.30" y="333.61" font-size="6.20" text-anchor="middle" textLength="15.50" lengthAdjust="spacingAndGlyphs">NPSHr</text>
<text x="259.70" y="339.41" font-size="6.20" text-anchor="middle">(m)</text>
<text x="261.10" y="344.51" font-size="6.20" text-anchor="middle" class="n">4</text>
<text x="261.10" y="354.11" font-size="6.20" text-anchor="middle" class="n">3</text>
<text x="261.10" y="363.61" font-size="6.20" text-anchor="middle" class="n">2</text>
<text x="447.70" y="268.11" font-size="6.20" text-anchor="middle">η</text>
<text x="447.70" y="272.41" font-size="6.20" text-anchor="middle">(%)</text>
<text x="447.70" y="277.81" font-size="6.20" text-anchor="middle" class="n">75</text>
<text x="447.70" y="288.81" font-size="6.20" text-anchor="middle" class="n">65</text>
<text x="447.70" y="299.11" font-size="6.20" text-anchor="middle" class="n">55</text>
<text x="447.70" y="310.31" font-size="6.20" text-anchor="middle" class="n">45</text>
<text x="447.70" y="320.51" font-size="6.20" text-anchor="middle" class="n">35</text>
<text x="456.30" y="305.51" font-size="6.20" text-anchor="middle">Pa</text>
<text x="457.50" y="310.71" font-size="6.20" text-anchor="middle">(kW)</text>
<text x="460.30" y="316.41" font-size="6.20" text-anchor="middle" class="n">75</text>
<text x="460.30" y="326.11" font-size="6.20" text-anchor="middle" class="n">65</text>
<text x="460.30" y="335.41" font-size="6.20" text-anchor="middle" class="n">55</text>
<text x="460.30" y="344.71" font-size="6.20" text-anchor="middle" class="n">45</text>
<text x="271.00" y="368.31" font-size="6.20" text-anchor="middle" class="n">0</text>
<text x="295.50" y="368.31" font-size="6.20" text-anchor="middle" class="n">40</text>
<text x="320.50" y="368.31" font-size="6.20" text-anchor="middle" class="n">80</text>
<text x="344.00" y="368.31" font-size="6.20" text-anchor="middle" class="n">100</text>
<text x="368.50" y="368.31" font-size="6.20" text-anchor="middle" class="n">120</text>
<text x="392.00" y="368.31" font-size="6.20" text-anchor="middle" class="n">140</text>
<text x="419.30" y="368.31" font-size="6.20" text-anchor="middle" class="n">160</text>
<text x="440.40" y="368.31" font-size="6.20" text-anchor="middle" class="n">180</text>
<text x="448.20" y="371.11" font-size="6.20" text-anchor="middle">Q</text>
<text x="450.70" y="366.41" font-size="6.20" text-anchor="start">(L/S)</text>
<text x="449.30" y="376.41" font-size="6.20" text-anchor="start">(m³/h)</text>
<text x="271.00" y="379.61" font-size="6.20" text-anchor="middle" class="n">0</text>
<text x="305.50" y="379.61" font-size="6.20" text-anchor="middle" class="n">250</text>
<text x="340.50" y="379.61" font-size="6.20" text-anchor="middle" class="n">350</text>
<text x="373.50" y="379.61" font-size="6.20" text-anchor="middle" class="n">450</text>
<text x="406.00" y="379.61" font-size="6.20" text-anchor="middle" class="n">550</text>
<text x="441.40" y="379.61" font-size="6.20" text-anchor="middle" class="n">650</text>
<path d="M265.90 341.20V361.80M265.90 341.90h-2.80M265.90 351.50h-2.80M265.90 361.10h-2.80" stroke="#111" stroke-width="1.40" fill="none"/>
<path d="M453.40 313.15V342.05M453.40 313.80h2.40M453.40 323.00h2.40M453.40 332.20h2.40M453.40 341.40h2.40" stroke="#111" stroke-width="1.30" fill="none"/>
<path d="M270.00 373.20H442.50M270.00 373.20v-3.00M287.30 373.20v-3.00M304.50 373.20v-3.00M321.80 373.20v-3.00M339.00 373.20v-3.00M356.30 373.20v-3.00M373.50 373.20v-3.00M390.70 373.20v-3.00M408.00 373.20v-3.00M423.60 373.20v-3.00M442.50 373.20v-3.00" stroke="#111" stroke-width="1.30" fill="none"/>
</g>
<g>
<path d="M507.60 236.50H678.70M507.60 242.50H678.70M507.60 248.50H678.70M507.60 255.50H678.70M507.60 261.50H678.70M507.60 267.50H678.70M507.60 273.50H678.70M507.60 279.50H678.70M507.60 285.50H678.70M507.60 292.50H678.70M507.60 298.50H678.70M507.60 304.50H678.70M507.60 310.50H678.70M507.60 316.50H678.70M507.60 322.50H678.70M507.60 329.50H678.70M507.60 335.50H678.70M507.60 341.50H678.70M507.60 347.50H678.70M507.60 353.50H678.70M599.30 230.50H678.70M513.50 236.60V360.00M519.50 236.60V360.00M525.50 236.60V360.00M532.50 236.60V360.00M538.50 236.60V360.00M544.50 236.60V360.00M550.50 236.60V360.00M556.50 236.60V360.00M562.50 236.60V360.00M568.50 236.60V360.00M574.50 236.60V360.00M580.50 236.60V360.00M587.50 236.60V360.00M593.50 236.60V360.00M599.50 225.00V360.00M605.50 225.00V360.00M611.50 225.00V360.00M617.50 225.00V360.00M623.50 225.00V360.00M629.50 225.00V360.00M635.50 225.00V360.00M642.50 225.00V360.00M648.50 225.00V360.00M654.50 225.00V360.00M660.50 225.00V360.00M666.50 225.00V360.00M672.50 225.00V360.00" stroke="#303030" stroke-width="1.10" fill="none"/>
<rect x="507.50" y="225.50" width="171.00" height="135.00" fill="none" stroke="#303030" stroke-width="1.15"/>
<rect x="507.50" y="225.50" width="92.00" height="11.00" fill="#fff" stroke="#303030" stroke-width="1.15"/>
<text x="514.60" y="233.00" font-size="5.60" text-anchor="start" class="tt" textLength="76.0" lengthAdjust="spacingAndGlyphs">250ZX400-50 n=1450r/min</text>
<rect x="575.80" y="289.50" width="5.30" height="6.00" fill="#fff"/>
<rect x="611.89" y="302.74" width="5.30" height="6.00" fill="#fff"/>
<rect x="619.24" y="338.14" width="5.30" height="6.00" fill="#fff"/>
<path d="M517.63 252.46 C521.53 252.85 532.67 253.68 541.02 254.78 C549.37 255.88 560.51 257.70 567.75 259.08 C574.99 260.46 578.89 261.67 584.46 263.05 C590.03 264.43 595.60 265.70 601.17 267.35 C606.74 269.00 612.31 271.05 617.88 272.98 C623.45 274.91 629.02 276.84 634.59 278.93 C640.16 281.02 645.84 282.96 651.30 285.55 C656.76 288.14 664.67 293.00 667.34 294.49" stroke="#111" stroke-width="1.50" fill="none" stroke-linecap="round"/>
<path d="M519.30 309.38 C520.41 307.73 523.48 302.48 525.98 299.45 C528.49 296.42 530.71 294.21 534.33 291.18 C537.95 288.15 543.24 284.17 547.70 281.25 C552.16 278.33 556.61 275.96 561.07 273.64 C565.53 271.32 569.99 269.12 574.44 267.35 C578.89 265.59 583.35 264.21 587.80 263.05 C592.25 261.89 596.71 261.06 601.17 260.40 C605.63 259.74 610.08 259.30 614.54 259.08 C619.00 258.86 623.44 258.86 627.90 259.08 C632.36 259.30 636.81 259.63 641.27 260.40 C645.73 261.17 650.29 262.16 654.64 263.71 C658.99 265.25 665.22 268.68 667.34 269.67" stroke="#111" stroke-width="1.50" fill="none" stroke-linecap="round"/>
<path d="M524.31 340.15 C527.65 340.15 537.12 340.59 544.36 340.15 C551.60 339.71 560.51 338.49 567.75 337.50 C574.99 336.51 581.12 335.57 587.80 334.19 C594.48 332.81 601.17 331.00 607.85 329.23 C614.53 327.47 621.21 325.70 627.90 323.60 C634.59 321.50 641.55 319.02 647.96 316.65 C654.37 314.28 663.28 310.59 666.34 309.38" stroke="#111" stroke-width="1.50" fill="none" stroke-linecap="round"/>
<polyline points="566.08,272.98 573.77,296.80 579.45,296.80" stroke="#111" stroke-width="1.25" fill="none"/>
<polyline points="624.56,279.60 619.55,308.71 611.20,308.71" stroke="#111" stroke-width="1.25" fill="none"/>
<polyline points="611.20,327.57 616.88,345.77 625.23,345.77" stroke="#111" stroke-width="1.25" fill="none"/>
<text x="578.45" y="294.61" font-size="6.20" text-anchor="middle">η</text>
<text x="614.54" y="307.85" font-size="6.20" text-anchor="middle">H</text>
<text x="621.89" y="343.25" font-size="6.20" text-anchor="middle">N</text>
<text x="500.50" y="236.61" font-size="6.20" text-anchor="middle">H</text>
<text x="500.50" y="245.11" font-size="6.20" text-anchor="middle">(m)</text>
<text x="501.00" y="257.61" font-size="6.20" text-anchor="middle" class="n">60</text>
<text x="501.00" y="269.61" font-size="6.20" text-anchor="middle" class="n">50</text>
<text x="501.00" y="281.61" font-size="6.20" text-anchor="middle" class="n">40</text>
<text x="501.00" y="294.11" font-size="6.20" text-anchor="middle" class="n">30</text>
<text x="492.20" y="302.41" font-size="6.20" text-anchor="middle">N</text>
<text x="493.50" y="308.71" font-size="6.20" text-anchor="middle">(kW)</text>
<text x="495.50" y="318.41" font-size="6.20" text-anchor="middle" class="n">90</text>
<text x="495.50" y="331.11" font-size="6.20" text-anchor="middle" class="n">80</text>
<text x="495.50" y="343.31" font-size="6.20" text-anchor="middle" class="n">70</text>
<text x="495.50" y="355.51" font-size="6.20" text-anchor="middle" class="n">60</text>
<text x="688.00" y="234.61" font-size="6.20" text-anchor="middle">η</text>
<text x="688.00" y="245.11" font-size="6.20" text-anchor="middle">(%)</text>
<text x="688.00" y="257.61" font-size="6.20" text-anchor="middle" class="n">70</text>
<text x="688.00" y="269.61" font-size="6.20" text-anchor="middle" class="n">60</text>
<text x="688.00" y="281.61" font-size="6.20" text-anchor="middle" class="n">50</text>
<text x="688.00" y="293.61" font-size="6.20" text-anchor="middle" class="n">40</text>
<text x="688.00" y="306.61" font-size="6.20" text-anchor="middle" class="n">30</text>
<text x="509.80" y="366.91" font-size="6.20" text-anchor="middle" class="n">0</text>
<text x="531.00" y="366.91" font-size="6.20" text-anchor="middle" class="n">100</text>
<text x="557.00" y="366.91" font-size="6.20" text-anchor="middle" class="n">200</text>
<text x="581.50" y="366.91" font-size="6.20" text-anchor="middle" class="n">300</text>
<text x="606.50" y="366.91" font-size="6.20" text-anchor="middle" class="n">400</text>
<text x="630.50" y="366.91" font-size="6.20" text-anchor="middle" class="n">500</text>
<text x="654.30" y="366.91" font-size="6.20" text-anchor="middle" class="n">600</text>
<text x="672.50" y="366.91" font-size="6.20" text-anchor="middle" class="n">700</text>
<text x="689.00" y="362.81" font-size="6.20" text-anchor="start">(m³/h)</text>
<text x="683.60" y="371.71" font-size="6.20" text-anchor="middle">Q</text>
<text x="686.00" y="381.11" font-size="6.20" text-anchor="start">(L/S)</text>
<text x="509.80" y="379.81" font-size="6.20" text-anchor="middle" class="n">0</text>
<text x="531.00" y="379.81" font-size="6.20" text-anchor="middle" class="n">25</text>
<text x="557.00" y="379.81" font-size="6.20" text-anchor="middle" class="n">50</text>
<text x="575.00" y="379.81" font-size="6.20" text-anchor="middle" class="n">75</text>
<text x="599.00" y="379.81" font-size="6.20" text-anchor="middle" class="n">100</text>
<text x="626.00" y="379.81" font-size="6.20" text-anchor="middle" class="n">125</text>
<text x="647.00" y="379.81" font-size="6.20" text-anchor="middle" class="n">150</text>
<text x="667.10" y="379.81" font-size="6.20" text-anchor="middle" class="n">175</text>
<path d="M505.60 303.45V353.65M505.60 304.10h-5.40M505.60 315.90h-5.40M505.60 328.60h-5.40M505.60 340.70h-5.40M505.60 353.00h-5.40" stroke="#111" stroke-width="1.30" fill="none"/>
<path d="M507.60 372.90H678.70M507.60 372.90v-3.00M532.00 372.90v-3.00M556.50 372.90v-3.00M581.00 372.90v-3.00M605.00 372.90v-3.00M630.00 372.90v-3.00M654.00 372.90v-3.00M667.50 372.90v-3.00M678.70 372.90v-3.00" stroke="#111" stroke-width="1.30" fill="none"/>
</g>
<g>
<path d="M33.00 453.50H204.60M33.00 458.50H204.60M33.00 462.50H204.60M33.00 467.50H204.60M33.00 472.50H204.60M33.00 477.50H204.60M33.00 482.50H204.60M33.00 486.50H204.60M33.00 491.50H204.60M33.00 496.50H204.60M33.00 501.50H204.60M33.00 506.50H204.60M33.00 510.50H204.60M33.00 515.50H204.60M33.00 520.50H204.60M33.00 525.50H204.60M33.00 530.50H204.60M33.00 534.50H204.60M33.00 539.50H204.60M33.00 544.50H204.60M33.00 549.50H204.60M33.00 554.50H204.60M33.00 558.50H204.60M33.00 563.50H204.60M33.00 568.50H204.60M33.00 573.50H204.60M124.90 448.50H204.60M39.50 453.40V578.00M45.50 453.40V578.00M51.50 453.40V578.00M57.50 453.40V578.00M63.50 453.40V578.00M69.50 453.40V578.00M75.50 453.40V578.00M82.50 453.40V578.00M88.50 453.40V578.00M94.50 453.40V578.00M100.50 453.40V578.00M106.50 453.40V578.00M112.50 453.40V578.00M118.50 453.40V578.00M124.50 443.40V578.00M131.50 443.40V578.00M137.50 443.40V578.00M143.50 443.40V578.00M149.50 443.40V578.00M155.50 443.40V578.00M161.50 443.40V578.00M167.50 443.40V578.00M173.50 443.40V578.00M180.50 443.40V578.00M186.50 443.40V578.00M192.50 443.40V578.00M198.50 443.40V578.00" stroke="#303030" stroke-width="0.90" fill="none"/>
<rect x="33.50" y="443.50" width="171.00" height="135.00" fill="none" stroke="#303030" stroke-width="1.15"/>
<rect x="33.50" y="443.50" width="91.00" height="10.00" fill="#fff" stroke="#303030" stroke-width="1.15"/>
<text x="38.00" y="450.60" font-size="5.60" text-anchor="start" class="tt" textLength="80.0" lengthAdjust="spacingAndGlyphs">250ZX450-55  n=1450r/min</text>
<rect x="144.64" y="457.60" width="5.30" height="6.00" fill="#fff"/>
<rect x="123.65" y="489.35" width="5.30" height="6.00" fill="#fff"/>
<rect x="136.98" y="526.39" width="5.30" height="6.00" fill="#fff"/>
<rect x="130.38" y="552.18" width="18.50" height="6.00" fill="#fff"/>
<path d="M33.00 473.16 C35.78 472.72 43.00 471.24 49.66 470.52 C56.32 469.80 64.65 469.14 72.98 468.86 C81.31 468.58 91.87 468.69 99.64 468.86 C107.41 469.03 112.97 469.25 119.63 469.86 C126.29 470.47 132.97 471.23 139.63 472.50 C146.29 473.77 153.51 475.42 159.62 477.46 C165.73 479.50 171.28 482.15 176.28 484.74 C181.28 487.33 185.72 490.09 189.61 493.01 C193.50 495.93 197.27 499.95 199.60 502.27 C201.93 504.58 202.93 506.13 203.60 506.90" stroke="#111" stroke-width="1.50" fill="none" stroke-linecap="round"/>
<path d="M33.00 578.00 C34.22 575.68 37.22 568.90 40.33 564.11 C43.44 559.32 47.49 554.19 51.66 549.23 C55.82 544.27 60.32 539.04 65.32 534.35 C70.32 529.66 75.71 525.03 81.65 521.12 C87.59 517.21 95.08 513.57 100.97 510.87 C106.86 508.17 111.64 506.45 116.97 504.91 C122.30 503.37 127.52 502.44 132.96 501.61 C138.40 500.78 144.07 500.23 149.62 499.95 C155.17 499.67 160.73 499.51 166.28 499.95 C171.83 500.39 178.22 501.55 182.94 502.60 C187.66 503.65 191.54 504.97 194.60 506.24 C197.66 507.51 200.16 509.54 201.27 510.20" stroke="#111" stroke-width="1.50" fill="none" stroke-linecap="round"/>
<path d="M33.00 558.49 C38.55 557.66 55.21 555.35 66.32 553.53 C77.43 551.71 88.53 549.56 99.64 547.57 C110.75 545.59 121.85 543.55 132.96 541.62 C144.07 539.69 154.51 537.93 166.28 536.00 C178.05 534.07 197.38 531.04 203.60 530.05" stroke="#111" stroke-width="1.50" fill="none" stroke-linecap="round"/>
<path d="M119.63 567.42 C122.96 567.25 132.97 567.09 139.63 566.43 C146.29 565.77 153.51 564.66 159.62 563.45 C165.73 562.24 171.00 560.80 176.28 559.15 C181.56 557.50 188.77 554.47 191.27 553.53" stroke="#111" stroke-width="1.50" fill="none" stroke-linecap="round"/>
<polyline points="151.29,464.23 142.29,464.23 137.96,471.51" stroke="#111" stroke-width="1.25" fill="none"/>
<polyline points="122.30,495.65 132.29,495.65 136.96,501.27" stroke="#111" stroke-width="1.25" fill="none"/>
<polyline points="135.63,533.35 144.62,533.35 149.62,539.31" stroke="#111" stroke-width="1.25" fill="none"/>
<polyline points="129.63,558.16 149.62,558.16 155.62,564.11" stroke="#111" stroke-width="1.25" fill="none"/>
<text x="147.29" y="462.71" font-size="6.20" text-anchor="middle">H</text>
<text x="126.30" y="494.46" font-size="6.20" text-anchor="middle">η</text>
<text x="139.63" y="531.50" font-size="6.20" text-anchor="middle">N</text>
<text x="139.63" y="557.29" font-size="6.20" text-anchor="middle" textLength="15.50" lengthAdjust="spacingAndGlyphs">NPSHr</text>
<text x="26.00" y="452.11" font-size="6.20" text-anchor="middle">H</text>
<text x="26.00" y="458.11" font-size="6.20" text-anchor="middle">(m)</text>
<text x="26.00" y="465.11" font-size="6.20" text-anchor="middle" class="n">63</text>
<text x="26.00" y="475.11" font-size="6.20" text-anchor="middle" class="n">59</text>
<text x="26.00" y="485.11" font-size="6.20" text-anchor="middle" class="n">55</text>
<text x="26.00" y="494.61" font-size="6.20" text-anchor="middle" class="n">51</text>
<text x="26.00" y="503.61" font-size="6.20" text-anchor="middle" class="n">47</text>
<text x="21.40" y="541.21" font-size="6.20" text-anchor="middle" textLength="15.50" lengthAdjust="spacingAndGlyphs">NPSHr</text>
<text x="21.90" y="546.71" font-size="6.20" text-anchor="middle">(m)</text>
<text x="19.10" y="552.11" font-size="6.20" text-anchor="middle" class="n">5</text>
<text x="19.10" y="561.61" font-size="6.20" text-anchor="middle" class="n">4</text>
<text x="19.10" y="571.11" font-size="6.20" text-anchor="middle" class="n">3</text>
<text x="19.10" y="581.11" font-size="6.20" text-anchor="middle" class="n">2</text>
<text x="210.00" y="478.11" font-size="6.20" text-anchor="middle">η</text>
<text x="210.50" y="483.81" font-size="6.20" text-anchor="middle">(%)</text>
<text x="210.50" y="489.61" font-size="6.20" text-anchor="middle" class="n">75</text>
<text x="210.50" y="500.51" font-size="6.20" text-anchor="middle" class="n">65</text>
<text x="210.50" y="510.91" font-size="6.20" text-anchor="middle" class="n">55</text>
<text x="210.50" y="521.21" font-size="6.20" text-anchor="middle" class="n">45</text>
<text x="210.50" y="532.21" font-size="6.20" text-anchor="middle" class="n">35</text>
<text x="220.90" y="521.21" font-size="6.20" text-anchor="middle">Pa</text>
<text x="219.80" y="526.81" font-size="6.20" text-anchor="middle">(kW)</text>
<text x="225.50" y="533.11" font-size="6.20" text-anchor="middle" class="n">115</text>
<text x="225.50" y="542.11" font-size="6.20" text-anchor="middle" class="n">95</text>
<text x="225.50" y="551.41" font-size="6.20" text-anchor="middle" class="n">75</text>
<text x="225.50" y="560.61" font-size="6.20" text-anchor="middle" class="n">50</text>
<text x="34.60" y="584.41" font-size="6.20" text-anchor="middle" class="n">0</text>
<text x="56.50" y="584.41" font-size="6.20" text-anchor="middle" class="n">35</text>
<text x="81.00" y="584.41" font-size="6.20" text-anchor="middle" class="n">55</text>
<text x="105.50" y="584.41" font-size="6.20" text-anchor="middle" class="n">75</text>
<text x="130.00" y="584.41" font-size="6.20" text-anchor="middle" class="n">95</text>
<text x="154.00" y="584.41" font-size="6.20" text-anchor="middle" class="n">115</text>
<text x="183.60" y="584.41" font-size="6.20" text-anchor="middle" class="n">135</text>
<text x="202.10" y="584.41" font-size="6.20" text-anchor="middle" class="n">155</text>
<text x="212.10" y="581.91" font-size="6.20" text-anchor="start">(L/S)</text>
<text x="210.40" y="587.21" font-size="6.20" text-anchor="middle">Q</text>
<text x="212.10" y="593.01" font-size="6.20" text-anchor="start">(m³/h)</text>
<text x="34.60" y="595.71" font-size="6.20" text-anchor="middle" class="n">0</text>
<text x="70.50" y="595.71" font-size="6.20" text-anchor="middle" class="n">150</text>
<text x="102.00" y="595.71" font-size="6.20" text-anchor="middle" class="n">250</text>
<text x="137.50" y="595.71" font-size="6.20" text-anchor="middle" class="n">350</text>
<text x="169.00" y="595.71" font-size="6.20" text-anchor="middle" class="n">450</text>
<text x="201.80" y="595.71" font-size="6.20" text-anchor="middle" class="n">550</text>
<path d="M27.30 548.75V578.75M27.30 549.40h-4.00M27.30 558.70h-4.00M27.30 568.50h-4.00M27.30 578.10h-4.00" stroke="#111" stroke-width="1.30" fill="none"/>
<path d="M217.50 530.05V558.95M217.50 530.70h2.40M217.50 539.90h2.40M217.50 549.10h2.40M217.50 558.30h2.40" stroke="#111" stroke-width="1.30" fill="none"/>
<path d="M33.30 589.10H204.60M33.30 589.10v-3.00M50.50 589.10v-3.00M67.60 589.10v-3.00M84.80 589.10v-3.00M102.00 589.10v-3.00M119.00 589.10v-3.00M136.20 589.10v-3.00M153.40 589.10v-3.00M170.50 589.10v-3.00M188.20 589.10v-3.00M204.60 589.10v-3.00" stroke="#111" stroke-width="1.30" fill="none"/>
</g>
<g>
<path d="M270.60 452.50H442.50M270.60 458.50H442.50M270.60 464.50H442.50M270.60 470.50H442.50M270.60 477.50H442.50M270.60 483.50H442.50M270.60 489.50H442.50M270.60 495.50H442.50M270.60 501.50H442.50M270.60 507.50H442.50M270.60 513.50H442.50M270.60 519.50H442.50M270.60 526.50H442.50M270.60 532.50H442.50M270.60 538.50H442.50M270.60 544.50H442.50M270.60 550.50H442.50M270.60 556.50H442.50M270.60 562.50H442.50M270.60 568.50H442.50M362.70 446.50H442.50M276.50 452.60V575.10M282.50 452.60V575.10M289.50 452.60V575.10M295.50 452.60V575.10M301.50 452.60V575.10M307.50 452.60V575.10M313.50 452.60V575.10M319.50 452.60V575.10M325.50 452.60V575.10M331.50 452.60V575.10M338.50 452.60V575.10M344.50 452.60V575.10M350.50 452.60V575.10M356.50 452.60V575.10M362.50 440.60V575.10M368.50 440.60V575.10M374.50 440.60V575.10M381.50 440.60V575.10M387.50 440.60V575.10M393.50 440.60V575.10M399.50 440.60V575.10M405.50 440.60V575.10M411.50 440.60V575.10M417.50 440.60V575.10M424.50 440.60V575.10M430.50 440.60V575.10M436.50 440.60V575.10" stroke="#303030" stroke-width="1.10" fill="none"/>
<rect x="270.50" y="440.50" width="172.00" height="135.00" fill="none" stroke="#303030" stroke-width="1.15"/>
<rect x="270.50" y="440.50" width="92.00" height="12.00" fill="#fff" stroke="#303030" stroke-width="1.15"/>
<text x="275.60" y="448.80" font-size="5.60" text-anchor="start" class="tt" textLength="82.0" lengthAdjust="spacingAndGlyphs">250ZX400-75  n=1450r/min</text>
<rect x="340.10" y="506.02" width="5.30" height="6.00" fill="#fff"/>
<rect x="374.35" y="517.70" width="5.30" height="6.00" fill="#fff"/>
<rect x="381.00" y="553.41" width="5.30" height="6.00" fill="#fff"/>
<path d="M278.91 467.30 C282.79 467.58 294.43 467.97 302.19 468.97 C309.95 469.97 318.26 471.75 325.46 473.31 C332.66 474.87 339.31 476.81 345.41 478.31 C351.51 479.81 356.50 480.65 362.04 482.32 C367.58 483.99 373.12 486.22 378.66 488.33 C384.20 490.44 389.75 492.67 395.29 495.00 C400.83 497.33 406.26 499.56 411.91 502.34 C417.56 505.12 426.32 510.13 429.20 511.69" stroke="#111" stroke-width="1.50" fill="none" stroke-linecap="round"/>
<path d="M280.57 529.04 C281.68 527.37 284.45 522.37 287.22 519.03 C289.99 515.69 293.60 512.25 297.20 509.02 C300.80 505.79 304.68 502.62 308.84 499.67 C313.00 496.72 317.71 493.78 322.14 491.33 C326.57 488.88 331.01 486.77 335.44 484.99 C339.87 483.21 344.31 481.76 348.74 480.65 C353.17 479.54 357.61 478.87 362.04 478.31 C366.47 477.75 370.91 477.42 375.34 477.31 C379.77 477.20 384.21 477.26 388.64 477.65 C393.07 478.04 397.51 478.70 401.94 479.65 C406.37 480.59 410.53 481.65 415.24 483.32 C419.95 484.99 427.71 488.60 430.20 489.66" stroke="#111" stroke-width="1.50" fill="none" stroke-linecap="round"/>
<path d="M285.56 555.74 C289.44 555.74 301.63 556.13 308.84 555.74 C316.04 555.35 322.14 554.52 328.79 553.41 C335.44 552.30 342.09 550.63 348.74 549.07 C355.39 547.51 362.04 545.84 368.69 544.06 C375.34 542.28 381.99 540.34 388.64 538.39 C395.29 536.44 402.05 534.33 408.59 532.38 C415.13 530.43 424.66 527.65 427.87 526.71" stroke="#111" stroke-width="1.50" fill="none" stroke-linecap="round"/>
<polyline points="330.45,491.33 337.10,514.69 347.07,514.69" stroke="#111" stroke-width="1.25" fill="none"/>
<polyline points="391.30,492.33 381.99,526.37 373.67,526.37" stroke="#111" stroke-width="1.25" fill="none"/>
<polyline points="372.01,544.06 378.00,562.42 388.64,562.42" stroke="#111" stroke-width="1.25" fill="none"/>
<text x="342.75" y="511.13" font-size="6.20" text-anchor="middle">η</text>
<text x="377.00" y="522.81" font-size="6.20" text-anchor="middle">H</text>
<text x="383.65" y="558.52" font-size="6.20" text-anchor="middle">N</text>
<text x="264.00" y="453.61" font-size="6.20" text-anchor="middle">H</text>
<text x="264.00" y="461.11" font-size="6.20" text-anchor="middle">(m)</text>
<text x="264.50" y="474.11" font-size="6.20" text-anchor="middle" class="n">85</text>
<text x="264.50" y="486.61" font-size="6.20" text-anchor="middle" class="n">75</text>
<text x="264.50" y="499.11" font-size="6.20" text-anchor="middle" class="n">65</text>
<text x="264.50" y="511.91" font-size="6.20" text-anchor="middle" class="n">55</text>
<text x="256.00" y="519.61" font-size="6.20" text-anchor="middle">N</text>
<text x="256.50" y="527.71" font-size="6.20" text-anchor="middle">(kW)</text>
<text x="260.10" y="535.91" font-size="6.20" text-anchor="middle" class="n">135</text>
<text x="260.10" y="548.11" font-size="6.20" text-anchor="middle" class="n">125</text>
<text x="260.10" y="560.61" font-size="6.20" text-anchor="middle" class="n">115</text>
<text x="260.10" y="573.11" font-size="6.20" text-anchor="middle" class="n">105</text>
<text x="448.50" y="448.11" font-size="6.20" text-anchor="middle">η</text>
<text x="448.50" y="462.11" font-size="6.20" text-anchor="middle">(%)</text>
<text x="448.50" y="474.61" font-size="6.20" text-anchor="middle" class="n">70</text>
<text x="448.50" y="486.61" font-size="6.20" text-anchor="middle" class="n">60</text>
<text x="448.50" y="499.11" font-size="6.20" text-anchor="middle" class="n">50</text>
<text x="448.50" y="511.61" font-size="6.20" text-anchor="middle" class="n">40</text>
<text x="448.50" y="523.61" font-size="6.20" text-anchor="middle" class="n">30</text>
<text x="271.30" y="582.21" font-size="6.20" text-anchor="middle" class="n">0</text>
<text x="295.00" y="582.21" font-size="6.20" text-anchor="middle" class="n">100</text>
<text x="319.00" y="582.21" font-size="6.20" text-anchor="middle" class="n">200</text>
<text x="344.00" y="582.21" font-size="6.20" text-anchor="middle" class="n">300</text>
<text x="368.50" y="582.21" font-size="6.20" text-anchor="middle" class="n">400</text>
<text x="393.50" y="582.21" font-size="6.20" text-anchor="middle" class="n">500</text>
<text x="419.30" y="582.21" font-size="6.20" text-anchor="middle" class="n">600</text>
<text x="437.50" y="582.21" font-size="6.20" text-anchor="middle" class="n">700</text>
<text x="451.80" y="581.51" font-size="6.20" text-anchor="start">(m³/h)</text>
<text x="448.60" y="589.01" font-size="6.20" text-anchor="middle">Q</text>
<text x="448.60" y="598.01" font-size="6.20" text-anchor="start">(L/S)</text>
<text x="271.30" y="596.51" font-size="6.20" text-anchor="middle" class="n">0</text>
<text x="289.00" y="596.51" font-size="6.20" text-anchor="middle" class="n">25</text>
<text x="313.00" y="596.51" font-size="6.20" text-anchor="middle" class="n">50</text>
<text x="338.00" y="596.51" font-size="6.20" text-anchor="middle" class="n">75</text>
<text x="363.00" y="596.51" font-size="6.20" text-anchor="middle" class="n">100</text>
<text x="380.00" y="596.51" font-size="6.20" text-anchor="middle" class="n">125</text>
<text x="407.50" y="596.51" font-size="6.20" text-anchor="middle" class="n">150</text>
<text x="426.10" y="596.51" font-size="6.20" text-anchor="middle" class="n">175</text>
<path d="M268.40 520.75V571.25M268.40 521.40h-2.80M268.40 533.50h-2.80M268.40 545.70h-2.80M268.40 558.20h-2.80M268.40 570.60h-2.80" stroke="#111" stroke-width="1.30" fill="none"/>
<path d="M270.60 589.40H442.50M270.60 589.40v-3.00M295.00 589.40v-3.00M319.50 589.40v-3.00M344.00 589.40v-3.00M369.00 589.40v-3.00M393.50 589.40v-3.00M410.00 589.40v-3.00M425.70 589.40v-3.00M442.50 589.40v-3.00" stroke="#111" stroke-width="1.30" fill="none"/>
</g>
<g>
<path d="M507.60 454.50H678.60M507.60 459.50H678.60M507.60 464.50H678.60M507.60 468.50H678.60M507.60 473.50H678.60M507.60 478.50H678.60M507.60 483.50H678.60M507.60 488.50H678.60M507.60 493.50H678.60M507.60 497.50H678.60M507.60 502.50H678.60M507.60 507.50H678.60M507.60 512.50H678.60M507.60 517.50H678.60M507.60 521.50H678.60M507.60 526.50H678.60M507.60 531.50H678.60M507.60 536.50H678.60M507.60 541.50H678.60M507.60 546.50H678.60M507.60 550.50H678.60M507.60 555.50H678.60M507.60 560.50H678.60M507.60 565.50H678.60M507.60 570.50H678.60M507.60 575.50H678.60M599.20 449.50H678.60M513.50 454.40V579.90M519.50 454.40V579.90M525.50 454.40V579.90M532.50 454.40V579.90M538.50 454.40V579.90M544.50 454.40V579.90M550.50 454.40V579.90M556.50 454.40V579.90M562.50 454.40V579.90M568.50 454.40V579.90M574.50 454.40V579.90M580.50 454.40V579.90M586.50 454.40V579.90M593.50 454.40V579.90M599.50 445.00V579.90M605.50 445.00V579.90M611.50 445.00V579.90M617.50 445.00V579.90M623.50 445.00V579.90M629.50 445.00V579.90M635.50 445.00V579.90M641.50 445.00V579.90M648.50 445.00V579.90M654.50 445.00V579.90M660.50 445.00V579.90M666.50 445.00V579.90M672.50 445.00V579.90" stroke="#303030" stroke-width="0.90" fill="none"/>
<rect x="507.50" y="445.50" width="171.00" height="134.00" fill="none" stroke="#303030" stroke-width="1.15"/>
<rect x="507.50" y="445.50" width="92.00" height="9.00" fill="#fff" stroke="#303030" stroke-width="1.15"/>
<text x="513.60" y="451.90" font-size="5.60" text-anchor="start" class="tt" textLength="82.0" lengthAdjust="spacingAndGlyphs">300ZX600-32  n=1450r/min</text>
<rect x="637.77" y="461.99" width="5.30" height="6.00" fill="#fff"/>
<rect x="616.18" y="486.97" width="5.30" height="6.00" fill="#fff"/>
<rect x="616.18" y="524.61" width="5.30" height="6.00" fill="#fff"/>
<rect x="603.61" y="554.58" width="18.50" height="6.00" fill="#fff"/>
<path d="M508.26 468.98 C510.92 468.48 518.22 466.76 524.20 465.98 C530.18 465.20 536.92 464.49 544.12 464.32 C551.32 464.15 560.17 464.60 567.37 464.99 C574.57 465.38 580.65 465.93 587.29 466.65 C593.93 467.37 600.57 468.21 607.21 469.32 C613.85 470.43 621.04 471.81 627.13 473.31 C633.22 474.81 638.21 476.37 643.74 478.31 C649.27 480.25 655.80 482.75 660.34 484.97 C664.88 487.19 669.19 490.52 670.96 491.63" stroke="#111" stroke-width="1.50" fill="none" stroke-linecap="round"/>
<path d="M508.26 578.90 C509.26 577.40 511.58 573.63 514.24 569.91 C516.90 566.19 520.88 560.74 524.20 556.58 C527.52 552.42 529.73 549.37 534.16 544.93 C538.59 540.49 545.24 534.11 550.77 529.94 C556.30 525.78 561.84 522.83 567.37 519.94 C572.90 517.05 578.44 514.67 583.97 512.62 C589.50 510.57 595.04 509.06 600.57 507.62 C606.10 506.18 611.64 504.85 617.17 503.96 C622.70 503.07 628.79 502.68 633.77 502.29 C638.75 501.90 642.63 501.56 647.06 501.62 C651.49 501.68 656.36 501.90 660.34 502.62 C664.32 503.34 669.19 505.39 670.96 505.95" stroke="#111" stroke-width="1.50" fill="none" stroke-linecap="round"/>
<path d="M508.26 563.25 C512.58 562.42 524.31 560.19 534.16 558.25 C544.01 556.31 556.30 553.70 567.37 551.59 C578.44 549.48 589.50 547.42 600.57 545.59 C611.64 543.76 622.98 541.99 633.77 540.60 C644.56 539.21 660.06 537.82 665.32 537.26" stroke="#111" stroke-width="1.50" fill="none" stroke-linecap="round"/>
<path d="M588.95 570.57 C592.55 570.46 603.61 570.41 610.53 569.91 C617.45 569.41 624.36 568.41 630.45 567.58 C636.54 566.75 641.52 566.02 647.06 564.91 C652.59 563.80 660.89 561.58 663.66 560.91" stroke="#111" stroke-width="1.50" fill="none" stroke-linecap="round"/>
<polyline points="643.74,469.32 634.77,469.32 630.45,474.31" stroke="#111" stroke-width="1.25" fill="none"/>
<polyline points="615.51,493.30 623.81,493.30 629.46,502.62" stroke="#111" stroke-width="1.25" fill="none"/>
<polyline points="615.51,530.94 623.81,530.94 630.45,541.60" stroke="#111" stroke-width="1.25" fill="none"/>
<polyline points="603.89,560.91 623.15,560.91 629.46,568.24" stroke="#111" stroke-width="1.25" fill="none"/>
<text x="640.42" y="467.10" font-size="6.20" text-anchor="middle">H</text>
<text x="618.83" y="492.08" font-size="6.20" text-anchor="middle">η</text>
<text x="618.83" y="529.72" font-size="6.20" text-anchor="middle">N</text>
<text x="612.86" y="559.69" font-size="6.20" text-anchor="middle" textLength="15.50" lengthAdjust="spacingAndGlyphs">NPSHr</text>
<text x="501.50" y="453.61" font-size="6.20" text-anchor="middle">H</text>
<text x="501.50" y="459.61" font-size="6.20" text-anchor="middle">(m)</text>
<text x="501.50" y="466.61" font-size="6.20" text-anchor="middle" class="n">38</text>
<text x="501.50" y="476.11" font-size="6.20" text-anchor="middle" class="n">34</text>
<text x="501.50" y="485.61" font-size="6.20" text-anchor="middle" class="n">30</text>
<text x="501.50" y="495.11" font-size="6.20" text-anchor="middle" class="n">26</text>
<text x="501.50" y="504.61" font-size="6.20" text-anchor="middle" class="n">22</text>
<text x="496.90" y="551.71" font-size="6.20" text-anchor="middle" textLength="15.50" lengthAdjust="spacingAndGlyphs">NPSHr</text>
<text x="496.90" y="556.91" font-size="6.20" text-anchor="middle">(m)</text>
<text x="494.10" y="563.61" font-size="6.20" text-anchor="middle" class="n">4</text>
<text x="494.10" y="572.61" font-size="6.20" text-anchor="middle" class="n">3</text>
<text x="494.10" y="582.11" font-size="6.20" text-anchor="middle" class="n">2</text>
<text x="683.50" y="484.11" font-size="6.20" text-anchor="middle">η</text>
<text x="683.50" y="489.61" font-size="6.20" text-anchor="middle">(%)</text>
<text x="683.50" y="495.11" font-size="6.20" text-anchor="middle" class="n">75</text>
<text x="683.50" y="505.61" font-size="6.20" text-anchor="middle" class="n">65</text>
<text x="683.50" y="515.11" font-size="6.20" text-anchor="middle" class="n">55</text>
<text x="683.50" y="525.11" font-size="6.20" text-anchor="middle" class="n">45</text>
<text x="683.50" y="535.11" font-size="6.20" text-anchor="middle" class="n">35</text>
<text x="693.50" y="522.11" font-size="6.20" text-anchor="middle">NPa</text>
<text x="693.50" y="529.11" font-size="6.20" text-anchor="middle">(kW)</text>
<text x="697.00" y="535.61" font-size="6.20" text-anchor="middle" class="n">90</text>
<text x="697.00" y="545.11" font-size="6.20" text-anchor="middle" class="n">60</text>
<text x="697.00" y="554.11" font-size="6.20" text-anchor="middle" class="n">30</text>
<text x="697.00" y="563.11" font-size="6.20" text-anchor="middle" class="n">0</text>
<text x="508.70" y="585.91" font-size="6.20" text-anchor="middle" class="n">0</text>
<text x="532.50" y="585.91" font-size="6.20" text-anchor="middle" class="n">75</text>
<text x="557.50" y="585.91" font-size="6.20" text-anchor="middle" class="n">95</text>
<text x="582.50" y="585.91" font-size="6.20" text-anchor="middle" class="n">115</text>
<text x="607.00" y="585.91" font-size="6.20" text-anchor="middle" class="n">135</text>
<text x="631.00" y="585.91" font-size="6.20" text-anchor="middle" class="n">155</text>
<text x="655.70" y="585.91" font-size="6.20" text-anchor="middle" class="n">175</text>
<text x="675.70" y="585.91" font-size="6.20" text-anchor="middle" class="n">195</text>
<text x="686.40" y="585.01" font-size="6.20" text-anchor="start">(L/S)</text>
<text x="684.60" y="589.61" font-size="6.20" text-anchor="middle">Q</text>
<text x="687.00" y="595.01" font-size="6.20" text-anchor="start">(m³/h)</text>
<text x="508.70" y="596.51" font-size="6.20" text-anchor="middle" class="n">0</text>
<text x="541.50" y="596.51" font-size="6.20" text-anchor="middle" class="n">300</text>
<text x="574.50" y="596.51" font-size="6.20" text-anchor="middle" class="n">400</text>
<text x="610.50" y="596.51" font-size="6.20" text-anchor="middle" class="n">500</text>
<text x="643.50" y="596.51" font-size="6.20" text-anchor="middle" class="n">600</text>
<text x="676.00" y="596.51" font-size="6.20" text-anchor="middle" class="n">700</text>
<path d="M503.70 559.85V580.15M503.70 560.50h-3.70M503.70 569.80h-3.70M503.70 579.50h-3.70" stroke="#111" stroke-width="1.30" fill="none"/>
<path d="M689.60 532.85V561.65M689.60 533.50h3.00M689.60 543.00h3.00M689.60 552.00h3.00M689.60 561.00h3.00" stroke="#111" stroke-width="1.30" fill="none"/>
<path d="M507.60 590.20H678.60M507.60 590.20v-3.00M524.70 590.20v-3.00M541.80 590.20v-3.00M558.90 590.20v-3.00M576.00 590.20v-3.00M593.10 590.20v-3.00M610.20 590.20v-3.00M627.30 590.20v-3.00M644.40 590.20v-3.00M660.40 590.20v-3.00M678.60 590.20v-3.00" stroke="#111" stroke-width="1.30" fill="none"/>
</g>
<g>
<path d="M33.00 670.50H204.60M33.00 674.50H204.60M33.00 679.50H204.60M33.00 684.50H204.60M33.00 689.50H204.60M33.00 693.50H204.60M33.00 698.50H204.60M33.00 703.50H204.60M33.00 708.50H204.60M33.00 712.50H204.60M33.00 717.50H204.60M33.00 722.50H204.60M33.00 727.50H204.60M33.00 732.50H204.60M33.00 736.50H204.60M33.00 741.50H204.60M33.00 746.50H204.60M33.00 751.50H204.60M33.00 755.50H204.60M33.00 760.50H204.60M33.00 765.50H204.60M33.00 770.50H204.60M33.00 775.50H204.60M33.00 779.50H204.60M33.00 784.50H204.60M33.00 789.50H204.60M124.90 665.50H204.60M39.50 670.00V794.10M45.50 670.00V794.10M51.50 670.00V794.10M57.50 670.00V794.10M63.50 670.00V794.10M69.50 670.00V794.10M75.50 670.00V794.10M82.50 670.00V794.10M88.50 670.00V794.10M94.50 670.00V794.10M100.50 670.00V794.10M106.50 670.00V794.10M112.50 670.00V794.10M118.50 670.00V794.10M124.50 661.40V794.10M131.50 661.40V794.10M137.50 661.40V794.10M143.50 661.40V794.10M149.50 661.40V794.10M155.50 661.40V794.10M161.50 661.40V794.10M167.50 661.40V794.10M173.50 661.40V794.10M180.50 661.40V794.10M186.50 661.40V794.10M192.50 661.40V794.10M198.50 661.40V794.10" stroke="#303030" stroke-width="0.90" fill="none"/>
<rect x="33.50" y="661.50" width="171.00" height="133.00" fill="none" stroke="#303030" stroke-width="1.15"/>
<rect x="33.50" y="661.50" width="91.00" height="9.00" fill="#fff" stroke="#303030" stroke-width="1.15"/>
<text x="38.00" y="667.90" font-size="5.60" text-anchor="start" class="tt" textLength="82.0" lengthAdjust="spacingAndGlyphs">300ZX500-50  n=1450r/min</text>
<rect x="146.65" y="673.25" width="5.30" height="6.00" fill="#fff"/>
<rect x="125.87" y="707.25" width="5.30" height="6.00" fill="#fff"/>
<rect x="137.60" y="743.57" width="5.30" height="6.00" fill="#fff"/>
<rect x="137.70" y="767.99" width="18.50" height="6.00" fill="#fff"/>
<path d="M38.03 689.46 C41.66 689.08 52.27 687.70 59.81 687.15 C67.35 686.60 74.89 686.21 83.27 686.16 C91.65 686.11 101.71 686.27 110.09 686.82 C118.47 687.37 126.29 688.31 133.55 689.46 C140.81 690.62 147.52 692.10 153.66 693.75 C159.80 695.40 165.38 697.33 170.41 699.36 C175.44 701.39 179.63 703.32 183.82 705.96 C188.01 708.60 192.31 712.35 195.55 715.21 C198.79 718.07 201.97 721.81 203.26 723.13" stroke="#111" stroke-width="1.50" fill="none" stroke-linecap="round"/>
<path d="M34.01 794.10 C34.96 791.79 37.08 785.03 39.70 780.24 C42.33 775.45 45.85 770.33 49.76 765.38 C53.67 760.43 58.13 755.21 63.16 750.53 C68.19 745.85 73.78 741.17 79.92 737.32 C86.06 733.47 93.89 730.17 100.03 727.42 C106.17 724.67 111.20 722.58 116.79 720.82 C122.38 719.06 127.97 717.80 133.55 716.86 C139.14 715.92 144.72 715.38 150.30 715.21 C155.89 715.05 161.47 715.21 167.06 715.87 C172.65 716.53 178.79 717.90 183.82 719.17 C188.85 720.43 193.77 722.09 197.23 723.46 C200.69 724.84 203.37 726.76 204.60 727.42" stroke="#111" stroke-width="1.50" fill="none" stroke-linecap="round"/>
<path d="M34.01 774.62 C39.43 773.63 55.52 770.66 66.52 768.68 C77.52 766.70 88.86 764.66 100.03 762.74 C111.20 760.82 122.38 759.00 133.55 757.13 C144.72 755.26 155.61 753.34 167.06 751.52 C178.51 749.70 196.38 747.12 202.25 746.24" stroke="#111" stroke-width="1.50" fill="none" stroke-linecap="round"/>
<path d="M115.11 783.54 C118.18 783.43 127.13 783.54 133.55 782.88 C139.98 782.22 146.96 780.85 153.66 779.58 C160.36 778.31 167.35 776.99 173.77 775.28 C180.19 773.57 189.13 770.33 192.20 769.34" stroke="#111" stroke-width="1.50" fill="none" stroke-linecap="round"/>
<polyline points="153.66,680.55 143.60,680.55 138.57,689.46" stroke="#111" stroke-width="1.25" fill="none"/>
<polyline points="125.17,713.56 133.55,713.56 137.57,718.18" stroke="#111" stroke-width="1.25" fill="none"/>
<polyline points="136.23,749.87 144.27,749.87 149.30,756.14" stroke="#111" stroke-width="1.25" fill="none"/>
<polyline points="138.57,774.62 153.66,774.62 157.01,779.58" stroke="#111" stroke-width="1.25" fill="none"/>
<text x="149.30" y="678.36" font-size="6.20" text-anchor="middle">H</text>
<text x="128.52" y="712.36" font-size="6.20" text-anchor="middle">η</text>
<text x="140.25" y="748.68" font-size="6.20" text-anchor="middle">N</text>
<text x="146.95" y="773.10" font-size="6.20" text-anchor="middle" textLength="15.50" lengthAdjust="spacingAndGlyphs">NPSHr</text>
<text x="28.00" y="670.11" font-size="6.20" text-anchor="middle">H</text>
<text x="28.00" y="675.61" font-size="6.20" text-anchor="middle">(m)</text>
<text x="28.00" y="682.61" font-size="6.20" text-anchor="middle" class="n">58</text>
<text x="28.00" y="692.11" font-size="6.20" text-anchor="middle" class="n">54</text>
<text x="28.00" y="701.11" font-size="6.20" text-anchor="middle" class="n">50</text>
<text x="28.00" y="711.11" font-size="6.20" text-anchor="middle" class="n">46</text>
<text x="28.00" y="720.11" font-size="6.20" text-anchor="middle" class="n">42</text>
<text x="24.10" y="756.91" font-size="6.20" text-anchor="middle" textLength="15.50" lengthAdjust="spacingAndGlyphs">NPSHr</text>
<text x="24.10" y="762.31" font-size="6.20" text-anchor="middle">(m)</text>
<text x="25.80" y="768.61" font-size="6.20" text-anchor="middle" class="n">5</text>
<text x="25.80" y="778.11" font-size="6.20" text-anchor="middle" class="n">4</text>
<text x="25.80" y="787.61" font-size="6.20" text-anchor="middle" class="n">3</text>
<text x="25.80" y="797.61" font-size="6.20" text-anchor="middle" class="n">2</text>
<text x="210.00" y="699.21" font-size="6.20" text-anchor="middle">η</text>
<text x="210.00" y="705.01" font-size="6.20" text-anchor="middle">(%)</text>
<text x="210.50" y="710.71" font-size="6.20" text-anchor="middle" class="n">75</text>
<text x="210.50" y="720.31" font-size="6.20" text-anchor="middle" class="n">65</text>
<text x="210.50" y="729.71" font-size="6.20" text-anchor="middle" class="n">55</text>
<text x="210.50" y="739.51" font-size="6.20" text-anchor="middle" class="n">45</text>
<text x="210.50" y="748.71" font-size="6.20" text-anchor="middle" class="n">35</text>
<text x="220.30" y="737.21" font-size="6.20" text-anchor="middle">Pa</text>
<text x="220.30" y="742.01" font-size="6.20" text-anchor="middle">(kW)</text>
<text x="224.00" y="748.91" font-size="6.20" text-anchor="middle" class="n">115</text>
<text x="224.00" y="758.31" font-size="6.20" text-anchor="middle" class="n">95</text>
<text x="224.00" y="767.81" font-size="6.20" text-anchor="middle" class="n">75</text>
<text x="224.00" y="777.21" font-size="6.20" text-anchor="middle" class="n">50</text>
<text x="34.40" y="800.51" font-size="6.20" text-anchor="middle" class="n">0</text>
<text x="56.50" y="800.51" font-size="6.20" text-anchor="middle" class="n">50</text>
<text x="81.00" y="800.51" font-size="6.20" text-anchor="middle" class="n">70</text>
<text x="106.00" y="800.51" font-size="6.20" text-anchor="middle" class="n">90</text>
<text x="132.50" y="800.51" font-size="6.20" text-anchor="middle" class="n">110</text>
<text x="156.00" y="800.51" font-size="6.20" text-anchor="middle" class="n">130</text>
<text x="184.30" y="800.51" font-size="6.20" text-anchor="middle" class="n">150</text>
<text x="200.70" y="800.51" font-size="6.20" text-anchor="middle" class="n">170</text>
<text x="215.00" y="798.71" font-size="6.20" text-anchor="start">(L/S)</text>
<text x="210.70" y="802.61" font-size="6.20" text-anchor="middle">Q</text>
<text x="212.50" y="806.91" font-size="6.20" text-anchor="start">(m³/h)</text>
<text x="34.40" y="811.71" font-size="6.20" text-anchor="middle" class="n">0</text>
<text x="70.50" y="811.71" font-size="6.20" text-anchor="middle" class="n">200</text>
<text x="104.00" y="811.71" font-size="6.20" text-anchor="middle" class="n">300</text>
<text x="137.50" y="811.71" font-size="6.20" text-anchor="middle" class="n">400</text>
<text x="169.00" y="811.71" font-size="6.20" text-anchor="middle" class="n">500</text>
<text x="200.40" y="811.71" font-size="6.20" text-anchor="middle" class="n">600</text>
<path d="M30.50 764.85V795.25M30.50 765.50h-2.70M30.50 775.20h-2.70M30.50 784.80h-2.70M30.50 794.60h-2.70" stroke="#111" stroke-width="1.30" fill="none"/>
<path d="M215.70 745.95V775.55M215.70 746.60h2.50M215.70 755.90h2.50M215.70 765.50h2.50M215.70 774.90h2.50" stroke="#111" stroke-width="1.30" fill="none"/>
<path d="M33.30 804.10H204.60M33.30 804.10v-3.00M50.50 804.10v-3.00M67.60 804.10v-3.00M84.80 804.10v-3.00M102.00 804.10v-3.00M119.00 804.10v-3.00M136.20 804.10v-3.00M153.40 804.10v-3.00M170.50 804.10v-3.00M187.50 804.10v-3.00M204.60 804.10v-3.00" stroke="#111" stroke-width="1.30" fill="none"/>
</g>
<g>
<path d="M271.00 669.50H442.50M271.00 674.50H442.50M271.00 679.50H442.50M271.00 683.50H442.50M271.00 688.50H442.50M271.00 693.50H442.50M271.00 698.50H442.50M271.00 703.50H442.50M271.00 707.50H442.50M271.00 712.50H442.50M271.00 717.50H442.50M271.00 722.50H442.50M271.00 727.50H442.50M271.00 732.50H442.50M271.00 736.50H442.50M271.00 741.50H442.50M271.00 746.50H442.50M271.00 751.50H442.50M271.00 756.50H442.50M271.00 761.50H442.50M271.00 765.50H442.50M271.00 770.50H442.50M271.00 775.50H442.50M271.00 780.50H442.50M271.00 785.50H442.50M271.00 789.50H442.50M362.90 664.50H442.50M277.50 669.40V794.80M283.50 669.40V794.80M289.50 669.40V794.80M295.50 669.40V794.80M301.50 669.40V794.80M307.50 669.40V794.80M313.50 669.40V794.80M320.50 669.40V794.80M326.50 669.40V794.80M332.50 669.40V794.80M338.50 669.40V794.80M344.50 669.40V794.80M350.50 669.40V794.80M356.50 669.40V794.80M362.50 660.60V794.80M369.50 660.60V794.80M375.50 660.60V794.80M381.50 660.60V794.80M387.50 660.60V794.80M393.50 660.60V794.80M399.50 660.60V794.80M405.50 660.60V794.80M411.50 660.60V794.80M418.50 660.60V794.80M424.50 660.60V794.80M430.50 660.60V794.80M436.50 660.60V794.80" stroke="#303030" stroke-width="0.90" fill="none"/>
<rect x="271.50" y="660.50" width="171.00" height="134.00" fill="none" stroke="#303030" stroke-width="1.15"/>
<rect x="271.50" y="660.50" width="91.00" height="9.00" fill="#fff" stroke="#303030" stroke-width="1.15"/>
<text x="277.00" y="667.20" font-size="5.60" text-anchor="start" class="tt" textLength="82.0" lengthAdjust="spacingAndGlyphs">300ZX550-55  n=1450r/min</text>
<rect x="384.69" y="674.29" width="5.30" height="6.00" fill="#fff"/>
<rect x="364.63" y="705.34" width="5.30" height="6.00" fill="#fff"/>
<rect x="375.33" y="743.39" width="5.30" height="6.00" fill="#fff"/>
<rect x="372.74" y="768.43" width="18.50" height="6.00" fill="#fff"/>
<path d="M277.69 688.31 C280.75 687.87 289.11 686.20 296.07 685.64 C303.03 685.08 311.67 684.97 319.47 684.97 C327.27 684.97 335.08 685.14 342.88 685.64 C350.68 686.14 359.04 686.97 366.28 687.97 C373.52 688.97 379.65 689.92 386.34 691.65 C393.02 693.38 400.54 695.98 406.39 698.32 C412.24 700.66 416.98 703.05 421.44 705.67 C425.90 708.28 429.96 711.23 433.14 714.01 C436.31 716.79 439.26 720.97 440.49 722.36" stroke="#111" stroke-width="1.50" fill="none" stroke-linecap="round"/>
<path d="M271.67 794.80 C272.67 792.46 275.01 785.62 277.69 780.78 C280.37 775.94 283.82 770.77 287.72 765.76 C291.62 760.75 296.08 755.46 301.09 750.73 C306.10 746.00 311.95 741.27 317.80 737.38 C323.65 733.49 330.34 730.15 336.19 727.37 C342.04 724.59 347.34 722.36 352.91 720.69 C358.48 719.02 364.05 718.19 369.62 717.35 C375.19 716.51 380.77 715.96 386.34 715.68 C391.91 715.40 397.48 715.12 403.05 715.68 C408.62 716.24 414.75 717.74 419.77 719.02 C424.78 720.30 429.69 721.97 433.14 723.36 C436.59 724.75 439.26 726.70 440.49 727.37" stroke="#111" stroke-width="1.50" fill="none" stroke-linecap="round"/>
<path d="M271.67 775.10 C276.85 774.21 292.01 771.60 302.76 769.76 C313.51 767.92 325.05 765.98 336.19 764.09 C347.33 762.20 358.48 760.36 369.62 758.41 C380.76 756.46 391.24 754.35 403.05 752.40 C414.86 750.45 434.25 747.67 440.49 746.73" stroke="#111" stroke-width="1.50" fill="none" stroke-linecap="round"/>
<path d="M352.91 784.12 C356.25 783.84 366.27 783.29 372.96 782.45 C379.64 781.62 386.33 780.34 393.02 779.11 C399.71 777.88 407.06 776.49 413.08 775.10 C419.10 773.71 426.45 771.48 429.13 770.76" stroke="#111" stroke-width="1.50" fill="none" stroke-linecap="round"/>
<polyline points="391.35,681.30 381.99,681.30 377.31,688.31" stroke="#111" stroke-width="1.25" fill="none"/>
<polyline points="364.61,711.68 372.30,711.68 375.64,717.35" stroke="#111" stroke-width="1.25" fill="none"/>
<polyline points="374.64,749.07 382.99,749.07 388.01,755.74" stroke="#111" stroke-width="1.25" fill="none"/>
<polyline points="372.96,775.10 389.68,775.10 393.69,780.11" stroke="#111" stroke-width="1.25" fill="none"/>
<text x="387.34" y="679.40" font-size="6.20" text-anchor="middle">H</text>
<text x="367.28" y="710.45" font-size="6.20" text-anchor="middle">η</text>
<text x="377.98" y="748.50" font-size="6.20" text-anchor="middle">N</text>
<text x="381.99" y="773.54" font-size="6.20" text-anchor="middle" textLength="15.50" lengthAdjust="spacingAndGlyphs">NPSHr</text>
<text x="265.00" y="670.11" font-size="6.20" text-anchor="middle">H</text>
<text x="265.00" y="675.61" font-size="6.20" text-anchor="middle">(m)</text>
<text x="265.00" y="682.11" font-size="6.20" text-anchor="middle" class="n">63</text>
<text x="265.00" y="691.61" font-size="6.20" text-anchor="middle" class="n">59</text>
<text x="265.00" y="701.11" font-size="6.20" text-anchor="middle" class="n">55</text>
<text x="265.00" y="710.61" font-size="6.20" text-anchor="middle" class="n">51</text>
<text x="265.00" y="720.11" font-size="6.20" text-anchor="middle" class="n">47</text>
<text x="259.90" y="756.71" font-size="6.20" text-anchor="middle" textLength="15.50" lengthAdjust="spacingAndGlyphs">NPSHr</text>
<text x="260.30" y="761.91" font-size="6.20" text-anchor="middle">(m)</text>
<text x="262.60" y="768.41" font-size="6.20" text-anchor="middle" class="n">5</text>
<text x="262.60" y="778.11" font-size="6.20" text-anchor="middle" class="n">4</text>
<text x="262.60" y="787.61" font-size="6.20" text-anchor="middle" class="n">3</text>
<text x="262.60" y="797.61" font-size="6.20" text-anchor="middle" class="n">2</text>
<text x="448.30" y="699.61" font-size="6.20" text-anchor="middle">η</text>
<text x="448.30" y="704.81" font-size="6.20" text-anchor="middle">(%)</text>
<text x="448.50" y="710.61" font-size="6.20" text-anchor="middle" class="n">75</text>
<text x="448.50" y="720.61" font-size="6.20" text-anchor="middle" class="n">65</text>
<text x="448.50" y="730.31" font-size="6.20" text-anchor="middle" class="n">55</text>
<text x="448.50" y="740.11" font-size="6.20" text-anchor="middle" class="n">45</text>
<text x="448.50" y="749.11" font-size="6.20" text-anchor="middle" class="n">35</text>
<text x="458.00" y="739.11" font-size="6.20" text-anchor="middle">Pa</text>
<text x="458.00" y="744.11" font-size="6.20" text-anchor="middle">(kW)</text>
<text x="461.20" y="749.41" font-size="6.20" text-anchor="middle" class="n">130</text>
<text x="461.20" y="758.91" font-size="6.20" text-anchor="middle" class="n">110</text>
<text x="461.20" y="768.41" font-size="6.20" text-anchor="middle" class="n">90</text>
<text x="461.20" y="777.91" font-size="6.20" text-anchor="middle" class="n">70</text>
<text x="272.20" y="801.41" font-size="6.20" text-anchor="middle" class="n">0</text>
<text x="295.50" y="801.41" font-size="6.20" text-anchor="middle" class="n">60</text>
<text x="320.50" y="801.41" font-size="6.20" text-anchor="middle" class="n">80</text>
<text x="346.50" y="801.41" font-size="6.20" text-anchor="middle" class="n">100</text>
<text x="370.00" y="801.41" font-size="6.20" text-anchor="middle" class="n">120</text>
<text x="395.00" y="801.41" font-size="6.20" text-anchor="middle" class="n">140</text>
<text x="420.00" y="801.41" font-size="6.20" text-anchor="middle" class="n">160</text>
<text x="438.20" y="801.41" font-size="6.20" text-anchor="middle" class="n">180</text>
<text x="451.80" y="800.51" font-size="6.20" text-anchor="start">(L/S)</text>
<text x="448.20" y="803.71" font-size="6.20" text-anchor="middle">Q</text>
<text x="450.70" y="806.91" font-size="6.20" text-anchor="start">(m³/h)</text>
<text x="272.20" y="813.61" font-size="6.20" text-anchor="middle" class="n">0</text>
<text x="307.00" y="813.61" font-size="6.20" text-anchor="middle" class="n">250</text>
<text x="339.50" y="813.61" font-size="6.20" text-anchor="middle" class="n">350</text>
<text x="378.50" y="813.61" font-size="6.20" text-anchor="middle" class="n">450</text>
<text x="408.50" y="813.61" font-size="6.20" text-anchor="middle" class="n">550</text>
<text x="437.90" y="813.61" font-size="6.20" text-anchor="middle" class="n">650</text>
<path d="M268.10 764.85V795.25M268.10 765.50h-2.60M268.10 775.20h-2.60M268.10 784.80h-2.60M268.10 794.60h-2.60" stroke="#111" stroke-width="1.30" fill="none"/>
<path d="M452.50 746.35V775.75M452.50 747.00h2.50M452.50 756.50h2.50M452.50 766.00h2.50M452.50 775.10h2.50" stroke="#111" stroke-width="1.30" fill="none"/>
<path d="M271.00 806.50H442.50M271.00 806.50v-3.00M288.20 806.50v-3.00M305.30 806.50v-3.00M322.50 806.50v-3.00M339.60 806.50v-3.00M356.80 806.50v-3.00M373.90 806.50v-3.00M391.00 806.50v-3.00M408.20 806.50v-3.00M425.70 806.50v-3.00M442.50 806.50v-3.00" stroke="#111" stroke-width="1.30" fill="none"/>
</g>
</svg>
</body></html>
